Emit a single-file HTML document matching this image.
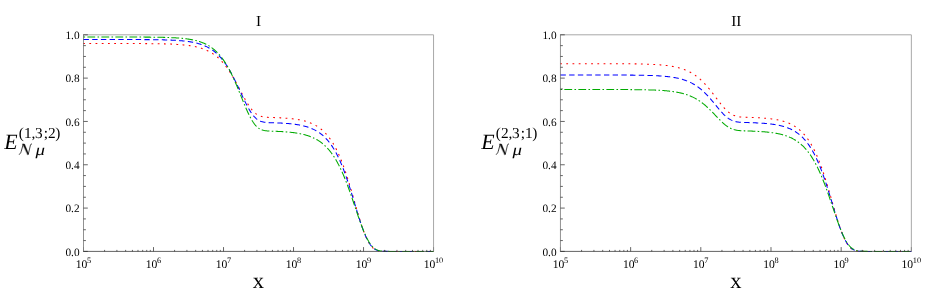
<!DOCTYPE html>
<html><head><meta charset="utf-8"><title>plot</title>
<style>html,body{margin:0;padding:0;background:#fff}svg{display:block}text{font-family:"Liberation Serif",serif;fill:#000;text-rendering:geometricPrecision}</style>
</head><body>
<svg width="926" height="303" viewBox="0 0 926 303">
<rect width="926" height="303" fill="#fff"/>
<defs><filter id="id" filterUnits="userSpaceOnUse" x="0" y="0" width="926" height="303"><feColorMatrix type="matrix" values="1 0 0 0 0 0 1 0 0 0 0 0 1 0 0 0 0 0 1 0"/></filter></defs>
<g filter="url(#id)" style="will-change:transform">
<path d="M83.5,34.80000000000001 H433.55 V251.4" fill="none" stroke="#a8a8a8" stroke-width="1.0"/>
<path d="M83.50,43.50 L84.00,43.50 L84.50,43.50 L85.00,43.50 L85.50,43.50 L86.00,43.50 L86.50,43.50 L87.00,43.50 L87.50,43.50 L88.00,43.50 L88.50,43.50 L89.00,43.50 L89.50,43.50 L90.00,43.50 L90.50,43.50 L91.00,43.50 L91.50,43.50 L92.00,43.50 L92.50,43.50 L93.00,43.50 L93.50,43.50 L94.00,43.50 L94.50,43.50 L95.00,43.50 L95.50,43.50 L96.00,43.50 L96.50,43.50 L97.00,43.50 L97.50,43.51 L98.00,43.51 L98.50,43.51 L99.00,43.51 L99.50,43.51 L100.00,43.51 L100.50,43.51 L101.00,43.51 L101.50,43.51 L102.00,43.51 L102.50,43.51 L103.00,43.51 L103.50,43.51 L104.00,43.51 L104.50,43.51 L105.00,43.51 L105.50,43.51 L106.00,43.51 L106.50,43.51 L107.00,43.51 L107.50,43.51 L108.00,43.51 L108.50,43.51 L109.00,43.51 L109.50,43.51 L110.00,43.51 L110.50,43.51 L111.00,43.51 L111.50,43.51 L112.00,43.51 L112.50,43.51 L113.00,43.51 L113.50,43.51 L114.00,43.51 L114.50,43.51 L115.00,43.51 L115.50,43.51 L116.00,43.51 L116.50,43.51 L117.00,43.52 L117.50,43.52 L118.00,43.52 L118.50,43.52 L119.01,43.52 L119.51,43.52 L120.01,43.52 L120.51,43.52 L121.01,43.52 L121.51,43.52 L122.01,43.52 L122.51,43.52 L123.01,43.52 L123.51,43.52 L124.01,43.52 L124.51,43.52 L125.01,43.53 L125.51,43.53 L126.01,43.53 L126.51,43.53 L127.01,43.53 L127.51,43.53 L128.01,43.53 L128.51,43.53 L129.01,43.53 L129.51,43.53 L130.01,43.54 L130.51,43.54 L131.01,43.54 L131.51,43.54 L132.01,43.54 L132.51,43.54 L133.01,43.54 L133.51,43.55 L134.01,43.55 L134.51,43.55 L135.01,43.55 L135.51,43.55 L136.01,43.55 L136.51,43.56 L137.01,43.56 L137.51,43.56 L138.01,43.56 L138.51,43.56 L139.01,43.57 L139.51,43.57 L140.01,43.57 L140.51,43.57 L141.01,43.58 L141.51,43.58 L142.01,43.58 L142.51,43.58 L143.01,43.59 L143.51,43.59 L144.01,43.59 L144.51,43.60 L145.01,43.60 L145.51,43.60 L146.01,43.61 L146.51,43.61 L147.01,43.61 L147.51,43.62 L148.01,43.62 L148.51,43.63 L149.01,43.63 L149.51,43.63 L150.01,43.64 L150.51,43.64 L151.01,43.65 L151.51,43.65 L152.01,43.66 L152.51,43.67 L153.01,43.67 L153.51,43.68 L154.01,43.68 L154.51,43.69 L155.01,43.70 L155.51,43.70 L156.01,43.71 L156.51,43.72 L157.01,43.73 L157.51,43.73 L158.01,43.74 L158.51,43.75 L159.01,43.76 L159.51,43.77 L160.01,43.78 L160.51,43.79 L161.01,43.80 L161.51,43.81 L162.01,43.82 L162.51,43.83 L163.01,43.84 L163.51,43.85 L164.01,43.87 L164.51,43.88 L165.01,43.89 L165.51,43.91 L166.01,43.92 L166.51,43.94 L167.01,43.95 L167.51,43.97 L168.01,43.98 L168.51,44.00 L169.01,44.02 L169.51,44.04 L170.01,44.06 L170.51,44.07 L171.01,44.09 L171.51,44.12 L172.01,44.14 L172.51,44.16 L173.01,44.18 L173.51,44.21 L174.01,44.23 L174.51,44.26 L175.01,44.28 L175.51,44.31 L176.01,44.34 L176.51,44.37 L177.01,44.40 L177.51,44.43 L178.01,44.47 L178.51,44.50 L179.01,44.53 L179.51,44.57 L180.01,44.61 L180.51,44.65 L181.01,44.69 L181.51,44.73 L182.01,44.77 L182.51,44.82 L183.01,44.86 L183.51,44.91 L184.01,44.96 L184.51,45.01 L185.01,45.07 L185.51,45.12 L186.01,45.18 L186.51,45.24 L187.01,45.30 L187.51,45.36 L188.01,45.42 L188.52,45.49 L189.02,45.56 L189.52,45.63 L190.02,45.71 L190.52,45.79 L191.02,45.87 L191.52,45.95 L192.02,46.03 L192.52,46.12 L193.02,46.21 L193.52,46.31 L194.02,46.40 L194.52,46.50 L195.02,46.61 L195.52,46.72 L196.02,46.83 L196.52,46.94 L197.02,47.06 L197.52,47.19 L198.02,47.31 L198.52,47.44 L199.02,47.58 L199.52,47.72 L200.02,47.87 L200.52,48.02 L201.02,48.17 L201.52,48.33 L202.02,48.50 L202.52,48.67 L203.02,48.84 L203.52,49.03 L204.02,49.21 L204.52,49.41 L205.02,49.61 L205.52,49.82 L206.02,50.03 L206.52,50.25 L207.02,50.48 L207.52,50.71 L208.02,50.96 L208.52,51.21 L209.02,51.46 L209.52,51.73 L210.02,52.00 L210.52,52.29 L211.02,52.58 L211.52,52.88 L212.02,53.19 L212.52,53.51 L213.02,53.84 L213.52,54.18 L214.02,54.52 L214.52,54.88 L215.02,55.25 L215.52,55.63 L216.02,56.03 L216.52,56.43 L217.02,56.84 L217.52,57.27 L218.02,57.71 L218.52,58.16 L219.02,58.62 L219.52,59.09 L220.02,59.58 L220.52,60.08 L221.02,60.60 L221.52,61.13 L222.02,61.67 L222.52,62.22 L223.02,62.79 L223.52,63.37 L224.02,63.97 L224.52,64.58 L225.02,65.21 L225.52,65.84 L226.02,66.50 L226.52,67.17 L227.02,67.85 L227.52,68.55 L228.02,69.26 L228.52,69.98 L229.02,70.72 L229.52,71.48 L230.02,72.25 L230.52,73.03 L231.02,73.82 L231.52,74.63 L232.02,75.45 L232.52,76.29 L233.02,77.13 L233.52,77.99 L234.02,78.86 L234.52,79.73 L235.02,80.62 L235.52,81.52 L236.02,82.43 L236.52,83.34 L237.02,84.27 L237.52,85.19 L238.02,86.13 L238.52,87.07 L239.02,88.01 L239.52,88.95 L240.02,89.90 L240.52,90.84 L241.02,91.79 L241.52,92.73 L242.02,93.67 L242.52,94.60 L243.02,95.53 L243.52,96.46 L244.02,97.37 L244.52,98.27 L245.02,99.17 L245.52,100.05 L246.02,100.91 L246.52,101.76 L247.02,102.60 L247.52,103.42 L248.02,104.22 L248.52,104.99 L249.02,105.75 L249.52,106.49 L250.02,107.20 L250.52,107.89 L251.02,108.55 L251.52,109.19 L252.02,109.80 L252.52,110.38 L253.02,110.94 L253.52,111.47 L254.02,111.97 L254.52,112.45 L255.02,112.90 L255.52,113.32 L256.02,113.71 L256.52,114.08 L257.02,114.42 L257.52,114.74 L258.02,115.03 L258.52,115.30 L259.03,115.55 L259.53,115.77 L260.03,115.97 L260.53,116.16 L261.03,116.32 L261.53,116.47 L262.03,116.61 L262.53,116.72 L263.03,116.83 L263.53,116.92 L264.03,117.00 L264.53,117.07 L265.03,117.14 L265.53,117.19 L266.03,117.24 L266.53,117.28 L267.03,117.32 L267.53,117.35 L268.03,117.38 L268.53,117.40 L269.03,117.43 L269.53,117.45 L270.03,117.47 L270.53,117.49 L271.03,117.50 L271.53,117.52 L272.03,117.53 L272.53,117.55 L273.03,117.57 L273.53,117.58 L274.03,117.60 L274.53,117.62 L275.03,117.63 L275.53,117.65 L276.03,117.67 L276.53,117.69 L277.03,117.71 L277.53,117.73 L278.03,117.75 L278.53,117.77 L279.03,117.79 L279.53,117.81 L280.03,117.84 L280.53,117.86 L281.03,117.89 L281.53,117.91 L282.03,117.94 L282.53,117.97 L283.03,118.00 L283.53,118.03 L284.03,118.06 L284.53,118.09 L285.03,118.13 L285.53,118.16 L286.03,118.20 L286.53,118.23 L287.03,118.27 L287.53,118.31 L288.03,118.36 L288.53,118.40 L289.03,118.44 L289.53,118.49 L290.03,118.54 L290.53,118.59 L291.03,118.64 L291.53,118.69 L292.03,118.75 L292.53,118.80 L293.03,118.86 L293.53,118.92 L294.03,118.99 L294.53,119.05 L295.03,119.12 L295.53,119.19 L296.03,119.26 L296.53,119.34 L297.03,119.42 L297.53,119.50 L298.03,119.58 L298.53,119.67 L299.03,119.76 L299.53,119.85 L300.03,119.95 L300.53,120.05 L301.03,120.15 L301.53,120.25 L302.03,120.37 L302.53,120.48 L303.03,120.60 L303.53,120.72 L304.03,120.85 L304.53,120.98 L305.03,121.11 L305.53,121.25 L306.03,121.40 L306.53,121.55 L307.03,121.70 L307.53,121.87 L308.03,122.03 L308.53,122.20 L309.03,122.38 L309.53,122.57 L310.03,122.76 L310.53,122.96 L311.03,123.16 L311.53,123.37 L312.03,123.59 L312.53,123.82 L313.03,124.05 L313.53,124.29 L314.03,124.54 L314.53,124.80 L315.03,125.07 L315.53,125.34 L316.03,125.63 L316.53,125.92 L317.03,126.23 L317.53,126.54 L318.03,126.87 L318.53,127.20 L319.03,127.55 L319.53,127.91 L320.03,128.28 L320.53,128.66 L321.03,129.06 L321.53,129.47 L322.03,129.89 L322.53,130.32 L323.03,130.77 L323.53,131.24 L324.03,131.72 L324.53,132.21 L325.03,132.72 L325.53,133.24 L326.03,133.79 L326.53,134.35 L327.03,134.92 L327.53,135.52 L328.03,136.13 L328.54,136.76 L329.04,137.41 L329.54,138.08 L330.04,138.77 L330.54,139.48 L331.04,140.21 L331.54,140.96 L332.04,141.73 L332.54,142.53 L333.04,143.35 L333.54,144.19 L334.04,145.05 L334.54,145.94 L335.04,146.85 L335.54,147.79 L336.04,148.75 L336.54,149.74 L337.04,150.75 L337.54,151.79 L338.04,152.85 L338.54,153.94 L339.04,155.06 L339.54,156.21 L340.04,157.38 L340.54,158.57 L341.04,159.80 L341.54,161.05 L342.04,162.33 L342.54,163.64 L343.04,164.97 L343.54,166.33 L344.04,167.72 L344.54,169.13 L345.04,170.57 L345.54,172.03 L346.04,173.52 L346.54,175.03 L347.04,176.56 L347.54,178.12 L348.04,179.70 L348.54,181.30 L349.04,182.92 L349.54,184.56 L350.04,186.22 L350.54,187.89 L351.04,189.58 L351.54,191.29 L352.04,193.00 L352.54,194.72 L353.04,196.46 L353.54,198.20 L354.04,199.94 L354.54,201.69 L355.04,203.43 L355.54,205.18 L356.04,206.92 L356.54,208.65 L357.04,210.38 L357.54,212.09 L358.04,213.79 L358.54,215.48 L359.04,217.14 L359.54,218.79 L360.04,220.41 L360.54,222.00 L361.04,223.56 L361.54,225.10 L362.04,226.60 L362.54,228.06 L363.04,229.48 L363.54,230.87 L364.04,232.21 L364.54,233.51 L365.04,234.76 L365.54,235.97 L366.04,237.12 L366.54,238.23 L367.04,239.29 L367.54,240.29 L368.04,241.24 L368.54,242.15 L369.04,243.00 L369.54,243.79 L370.04,244.54 L370.54,245.24 L371.04,245.88 L371.54,246.48 L372.04,247.04 L372.54,247.54 L373.04,248.00 L373.54,248.43 L374.04,248.81 L374.54,249.15 L375.04,249.46 L375.54,249.73 L376.04,249.98 L376.54,250.19 L377.04,250.38 L377.54,250.54 L378.04,250.69 L378.54,250.81 L379.04,250.91 L379.54,251.00 L380.04,251.08 L380.54,251.14 L381.04,251.19 L381.54,251.24 L382.04,251.27 L382.54,251.30 L383.04,251.32 L383.54,251.34 L384.04,251.36 L384.54,251.37 L385.04,251.38 L385.54,251.38 L386.04,251.39 L386.54,251.39 L387.04,251.39 L387.54,251.40 L388.04,251.40 L388.54,251.40 L389.04,251.40 L389.54,251.40 L390.04,251.40 L390.54,251.40 L391.04,251.40 L391.54,251.40 L392.04,251.40 L392.54,251.40 L393.04,251.40 L393.54,251.40 L394.04,251.40 L394.54,251.40 L395.04,251.40 L395.54,251.40 L396.04,251.40 L396.54,251.40 L397.04,251.40 L397.54,251.40 L398.04,251.40 L398.55,251.40 L399.05,251.40 L399.55,251.40 L400.05,251.40 L400.55,251.40 L401.05,251.40 L401.55,251.40 L402.05,251.40 L402.55,251.40 L403.05,251.40 L403.55,251.40 L404.05,251.40 L404.55,251.40 L405.05,251.40 L405.55,251.40 L406.05,251.40 L406.55,251.40 L407.05,251.40 L407.55,251.40 L408.05,251.40 L408.55,251.40 L409.05,251.40 L409.55,251.40 L410.05,251.40 L410.55,251.40 L411.05,251.40 L411.55,251.40 L412.05,251.40 L412.55,251.40 L413.05,251.40 L413.55,251.40 L414.05,251.40 L414.55,251.40 L415.05,251.40 L415.55,251.40 L416.05,251.40 L416.55,251.40 L417.05,251.40 L417.55,251.40 L418.05,251.40 L418.55,251.40 L419.05,251.40 L419.55,251.40 L420.05,251.40 L420.55,251.40 L421.05,251.40 L421.55,251.40 L422.05,251.40 L422.55,251.40 L423.05,251.40 L423.55,251.40 L424.05,251.40 L424.55,251.40 L425.05,251.40 L425.55,251.40 L426.05,251.40 L426.55,251.40 L427.05,251.40 L427.55,251.40 L428.05,251.40 L428.55,251.40 L429.05,251.40 L429.55,251.40 L430.05,251.40 L430.55,251.40 L431.05,251.40 L431.55,251.40 L432.05,251.40 L432.55,251.40 L433.05,251.40 L433.55,251.40" fill="none" stroke="#ff0000" stroke-width="1.05" stroke-dasharray="1.8 4.42" stroke-dashoffset="0.4"/>
<path d="M83.50,39.52 L84.00,39.52 L84.50,39.52 L85.00,39.52 L85.50,39.52 L86.00,39.52 L86.50,39.52 L87.00,39.52 L87.50,39.52 L88.00,39.52 L88.50,39.52 L89.00,39.52 L89.50,39.52 L90.00,39.52 L90.50,39.52 L91.00,39.52 L91.50,39.52 L92.00,39.52 L92.50,39.52 L93.00,39.52 L93.50,39.52 L94.00,39.52 L94.50,39.52 L95.00,39.52 L95.50,39.52 L96.00,39.52 L96.50,39.52 L97.00,39.52 L97.50,39.52 L98.00,39.52 L98.50,39.52 L99.00,39.52 L99.50,39.52 L100.00,39.52 L100.50,39.52 L101.00,39.52 L101.50,39.52 L102.00,39.52 L102.50,39.52 L103.00,39.52 L103.50,39.52 L104.00,39.52 L104.50,39.52 L105.00,39.52 L105.50,39.52 L106.00,39.52 L106.50,39.52 L107.00,39.52 L107.50,39.52 L108.00,39.52 L108.50,39.52 L109.00,39.52 L109.50,39.52 L110.00,39.52 L110.50,39.52 L111.00,39.52 L111.50,39.52 L112.00,39.52 L112.50,39.52 L113.00,39.52 L113.50,39.52 L114.00,39.52 L114.50,39.53 L115.00,39.53 L115.50,39.53 L116.00,39.53 L116.50,39.53 L117.00,39.53 L117.50,39.53 L118.00,39.53 L118.50,39.53 L119.01,39.53 L119.51,39.53 L120.01,39.53 L120.51,39.53 L121.01,39.53 L121.51,39.53 L122.01,39.53 L122.51,39.53 L123.01,39.53 L123.51,39.54 L124.01,39.54 L124.51,39.54 L125.01,39.54 L125.51,39.54 L126.01,39.54 L126.51,39.54 L127.01,39.54 L127.51,39.54 L128.01,39.54 L128.51,39.54 L129.01,39.54 L129.51,39.55 L130.01,39.55 L130.51,39.55 L131.01,39.55 L131.51,39.55 L132.01,39.55 L132.51,39.55 L133.01,39.55 L133.51,39.56 L134.01,39.56 L134.51,39.56 L135.01,39.56 L135.51,39.56 L136.01,39.56 L136.51,39.57 L137.01,39.57 L137.51,39.57 L138.01,39.57 L138.51,39.57 L139.01,39.58 L139.51,39.58 L140.01,39.58 L140.51,39.58 L141.01,39.59 L141.51,39.59 L142.01,39.59 L142.51,39.59 L143.01,39.60 L143.51,39.60 L144.01,39.60 L144.51,39.61 L145.01,39.61 L145.51,39.61 L146.01,39.62 L146.51,39.62 L147.01,39.62 L147.51,39.63 L148.01,39.63 L148.51,39.64 L149.01,39.64 L149.51,39.65 L150.01,39.65 L150.51,39.65 L151.01,39.66 L151.51,39.66 L152.01,39.67 L152.51,39.68 L153.01,39.68 L153.51,39.69 L154.01,39.69 L154.51,39.70 L155.01,39.71 L155.51,39.71 L156.01,39.72 L156.51,39.73 L157.01,39.74 L157.51,39.74 L158.01,39.75 L158.51,39.76 L159.01,39.77 L159.51,39.78 L160.01,39.79 L160.51,39.80 L161.01,39.81 L161.51,39.82 L162.01,39.83 L162.51,39.84 L163.01,39.85 L163.51,39.87 L164.01,39.88 L164.51,39.89 L165.01,39.91 L165.51,39.92 L166.01,39.93 L166.51,39.95 L167.01,39.97 L167.51,39.98 L168.01,40.00 L168.51,40.02 L169.01,40.03 L169.51,40.05 L170.01,40.07 L170.51,40.09 L171.01,40.11 L171.51,40.13 L172.01,40.16 L172.51,40.18 L173.01,40.20 L173.51,40.23 L174.01,40.25 L174.51,40.28 L175.01,40.31 L175.51,40.34 L176.01,40.37 L176.51,40.40 L177.01,40.43 L177.51,40.46 L178.01,40.50 L178.51,40.53 L179.01,40.57 L179.51,40.61 L180.01,40.65 L180.51,40.69 L181.01,40.73 L181.51,40.77 L182.01,40.82 L182.51,40.86 L183.01,40.91 L183.51,40.96 L184.01,41.01 L184.51,41.07 L185.01,41.12 L185.51,41.18 L186.01,41.24 L186.51,41.30 L187.01,41.36 L187.51,41.43 L188.01,41.50 L188.52,41.57 L189.02,41.64 L189.52,41.72 L190.02,41.80 L190.52,41.88 L191.02,41.96 L191.52,42.05 L192.02,42.14 L192.52,42.23 L193.02,42.33 L193.52,42.43 L194.02,42.53 L194.52,42.64 L195.02,42.75 L195.52,42.86 L196.02,42.98 L196.52,43.10 L197.02,43.23 L197.52,43.36 L198.02,43.50 L198.52,43.64 L199.02,43.78 L199.52,43.93 L200.02,44.09 L200.52,44.25 L201.02,44.41 L201.52,44.59 L202.02,44.76 L202.52,44.95 L203.02,45.14 L203.52,45.33 L204.02,45.53 L204.52,45.74 L205.02,45.96 L205.52,46.18 L206.02,46.41 L206.52,46.65 L207.02,46.90 L207.52,47.15 L208.02,47.41 L208.52,47.68 L209.02,47.96 L209.52,48.25 L210.02,48.55 L210.52,48.85 L211.02,49.17 L211.52,49.50 L212.02,49.84 L212.52,50.18 L213.02,50.54 L213.52,50.91 L214.02,51.29 L214.52,51.68 L215.02,52.09 L215.52,52.50 L216.02,52.93 L216.52,53.37 L217.02,53.83 L217.52,54.30 L218.02,54.78 L218.52,55.27 L219.02,55.78 L219.52,56.31 L220.02,56.84 L220.52,57.40 L221.02,57.97 L221.52,58.55 L222.02,59.15 L222.52,59.76 L223.02,60.39 L223.52,61.04 L224.02,61.70 L224.52,62.38 L225.02,63.08 L225.52,63.79 L226.02,64.52 L226.52,65.26 L227.02,66.03 L227.52,66.80 L228.02,67.60 L228.52,68.41 L229.02,69.24 L229.52,70.09 L230.02,70.95 L230.52,71.83 L231.02,72.72 L231.52,73.63 L232.02,74.56 L232.52,75.50 L233.02,76.45 L233.52,77.42 L234.02,78.41 L234.52,79.40 L235.02,80.41 L235.52,81.43 L236.02,82.46 L236.52,83.50 L237.02,84.54 L237.52,85.60 L238.02,86.66 L238.52,87.73 L239.02,88.81 L239.52,89.89 L240.02,90.97 L240.52,92.05 L241.02,93.13 L241.52,94.21 L242.02,95.29 L242.52,96.36 L243.02,97.43 L243.52,98.49 L244.02,99.54 L244.52,100.58 L245.02,101.61 L245.52,102.63 L246.02,103.63 L246.52,104.61 L247.02,105.57 L247.52,106.52 L248.02,107.44 L248.52,108.34 L249.02,109.21 L249.52,110.06 L250.02,110.89 L250.52,111.68 L251.02,112.45 L251.52,113.19 L252.02,113.90 L252.52,114.57 L253.02,115.22 L253.52,115.83 L254.02,116.41 L254.52,116.96 L255.02,117.48 L255.52,117.96 L256.02,118.42 L256.52,118.84 L257.02,119.24 L257.52,119.60 L258.02,119.93 L258.52,120.24 L259.03,120.52 L259.53,120.78 L260.03,121.01 L260.53,121.22 L261.03,121.41 L261.53,121.58 L262.03,121.73 L262.53,121.86 L263.03,121.98 L263.53,122.08 L264.03,122.17 L264.53,122.25 L265.03,122.32 L265.53,122.38 L266.03,122.43 L266.53,122.47 L267.03,122.51 L267.53,122.55 L268.03,122.58 L268.53,122.60 L269.03,122.63 L269.53,122.65 L270.03,122.67 L270.53,122.69 L271.03,122.70 L271.53,122.72 L272.03,122.74 L272.53,122.75 L273.03,122.77 L273.53,122.79 L274.03,122.80 L274.53,122.82 L275.03,122.84 L275.53,122.85 L276.03,122.87 L276.53,122.89 L277.03,122.91 L277.53,122.93 L278.03,122.95 L278.53,122.97 L279.03,122.99 L279.53,123.02 L280.03,123.04 L280.53,123.07 L281.03,123.09 L281.53,123.12 L282.03,123.14 L282.53,123.17 L283.03,123.20 L283.53,123.23 L284.03,123.26 L284.53,123.30 L285.03,123.33 L285.53,123.36 L286.03,123.40 L286.53,123.44 L287.03,123.48 L287.53,123.52 L288.03,123.56 L288.53,123.60 L289.03,123.64 L289.53,123.69 L290.03,123.74 L290.53,123.79 L291.03,123.84 L291.53,123.89 L292.03,123.94 L292.53,124.00 L293.03,124.06 L293.53,124.12 L294.03,124.18 L294.53,124.25 L295.03,124.31 L295.53,124.38 L296.03,124.46 L296.53,124.53 L297.03,124.61 L297.53,124.69 L298.03,124.77 L298.53,124.85 L299.03,124.94 L299.53,125.03 L300.03,125.13 L300.53,125.23 L301.03,125.33 L301.53,125.43 L302.03,125.54 L302.53,125.65 L303.03,125.77 L303.53,125.89 L304.03,126.01 L304.53,126.14 L305.03,126.27 L305.53,126.41 L306.03,126.55 L306.53,126.70 L307.03,126.85 L307.53,127.01 L308.03,127.17 L308.53,127.34 L309.03,127.51 L309.53,127.69 L310.03,127.88 L310.53,128.07 L311.03,128.27 L311.53,128.48 L312.03,128.69 L312.53,128.91 L313.03,129.13 L313.53,129.37 L314.03,129.61 L314.53,129.86 L315.03,130.12 L315.53,130.39 L316.03,130.67 L316.53,130.95 L317.03,131.25 L317.53,131.55 L318.03,131.87 L318.53,132.19 L319.03,132.53 L319.53,132.87 L320.03,133.23 L320.53,133.60 L321.03,133.98 L321.53,134.38 L322.03,134.78 L322.53,135.20 L323.03,135.64 L323.53,136.08 L324.03,136.54 L324.53,137.02 L325.03,137.51 L325.53,138.01 L326.03,138.53 L326.53,139.07 L327.03,139.62 L327.53,140.19 L328.03,140.78 L328.54,141.38 L329.04,142.01 L329.54,142.65 L330.04,143.31 L330.54,143.99 L331.04,144.69 L331.54,145.41 L332.04,146.14 L332.54,146.90 L333.04,147.69 L333.54,148.49 L334.04,149.31 L334.54,150.16 L335.04,151.03 L335.54,151.93 L336.04,152.84 L336.54,153.78 L337.04,154.75 L337.54,155.74 L338.04,156.75 L338.54,157.79 L339.04,158.85 L339.54,159.94 L340.04,161.05 L340.54,162.19 L341.04,163.35 L341.54,164.54 L342.04,165.76 L342.54,166.99 L343.04,168.26 L343.54,169.55 L344.04,170.86 L344.54,172.20 L345.04,173.57 L345.54,174.95 L346.04,176.36 L346.54,177.80 L347.04,179.25 L347.54,180.73 L348.04,182.23 L348.54,183.74 L349.04,185.28 L349.54,186.83 L350.04,188.41 L350.54,189.99 L351.04,191.59 L351.54,193.21 L352.04,194.83 L352.54,196.47 L353.04,198.11 L353.54,199.76 L354.04,201.41 L354.54,203.07 L355.04,204.73 L355.54,206.39 L356.04,208.04 L356.54,209.69 L357.04,211.34 L357.54,212.97 L358.04,214.59 L358.54,216.19 L359.04,217.78 L359.54,219.35 L360.04,220.90 L360.54,222.43 L361.04,223.93 L361.54,225.40 L362.04,226.84 L362.54,228.25 L363.04,229.62 L363.54,230.95 L364.04,232.25 L364.54,233.51 L365.04,234.72 L365.54,235.89 L366.04,237.02 L366.54,238.10 L367.04,239.13 L367.54,240.11 L368.04,241.05 L368.54,241.94 L369.04,242.78 L369.54,243.57 L370.04,244.31 L370.54,245.01 L371.04,245.66 L371.54,246.26 L372.04,246.81 L372.54,247.33 L373.04,247.80 L373.54,248.23 L374.04,248.62 L374.54,248.97 L375.04,249.29 L375.54,249.58 L376.04,249.84 L376.54,250.06 L377.04,250.26 L377.54,250.44 L378.04,250.59 L378.54,250.73 L379.04,250.84 L379.54,250.94 L380.04,251.02 L380.54,251.09 L381.04,251.15 L381.54,251.20 L382.04,251.24 L382.54,251.28 L383.04,251.30 L383.54,251.33 L384.04,251.34 L384.54,251.36 L385.04,251.37 L385.54,251.38 L386.04,251.38 L386.54,251.39 L387.04,251.39 L387.54,251.39 L388.04,251.40 L388.54,251.40 L389.04,251.40 L389.54,251.40 L390.04,251.40 L390.54,251.40 L391.04,251.40 L391.54,251.40 L392.04,251.40 L392.54,251.40 L393.04,251.40 L393.54,251.40 L394.04,251.40 L394.54,251.40 L395.04,251.40 L395.54,251.40 L396.04,251.40 L396.54,251.40 L397.04,251.40 L397.54,251.40 L398.04,251.40 L398.55,251.40 L399.05,251.40 L399.55,251.40 L400.05,251.40 L400.55,251.40 L401.05,251.40 L401.55,251.40 L402.05,251.40 L402.55,251.40 L403.05,251.40 L403.55,251.40 L404.05,251.40 L404.55,251.40 L405.05,251.40 L405.55,251.40 L406.05,251.40 L406.55,251.40 L407.05,251.40 L407.55,251.40 L408.05,251.40 L408.55,251.40 L409.05,251.40 L409.55,251.40 L410.05,251.40 L410.55,251.40 L411.05,251.40 L411.55,251.40 L412.05,251.40 L412.55,251.40 L413.05,251.40 L413.55,251.40 L414.05,251.40 L414.55,251.40 L415.05,251.40 L415.55,251.40 L416.05,251.40 L416.55,251.40 L417.05,251.40 L417.55,251.40 L418.05,251.40 L418.55,251.40 L419.05,251.40 L419.55,251.40 L420.05,251.40 L420.55,251.40 L421.05,251.40 L421.55,251.40 L422.05,251.40 L422.55,251.40 L423.05,251.40 L423.55,251.40 L424.05,251.40 L424.55,251.40 L425.05,251.40 L425.55,251.40 L426.05,251.40 L426.55,251.40 L427.05,251.40 L427.55,251.40 L428.05,251.40 L428.55,251.40 L429.05,251.40 L429.55,251.40 L430.05,251.40 L430.55,251.40 L431.05,251.40 L431.55,251.40 L432.05,251.40 L432.55,251.40 L433.05,251.40 L433.55,251.40" fill="none" stroke="#0000ff" stroke-width="1.05" stroke-dasharray="5.4 3.3"/>
<path d="M83.50,37.01 L84.00,37.01 L84.50,37.01 L85.00,37.01 L85.50,37.01 L86.00,37.01 L86.50,37.01 L87.00,37.01 L87.50,37.01 L88.00,37.01 L88.50,37.01 L89.00,37.01 L89.50,37.01 L90.00,37.01 L90.50,37.01 L91.00,37.01 L91.50,37.01 L92.00,37.01 L92.50,37.01 L93.00,37.01 L93.50,37.01 L94.00,37.01 L94.50,37.01 L95.00,37.01 L95.50,37.01 L96.00,37.01 L96.50,37.01 L97.00,37.01 L97.50,37.01 L98.00,37.01 L98.50,37.01 L99.00,37.01 L99.50,37.01 L100.00,37.01 L100.50,37.01 L101.00,37.01 L101.50,37.01 L102.00,37.01 L102.50,37.01 L103.00,37.01 L103.50,37.01 L104.00,37.01 L104.50,37.01 L105.00,37.01 L105.50,37.01 L106.00,37.01 L106.50,37.01 L107.00,37.01 L107.50,37.01 L108.00,37.01 L108.50,37.01 L109.00,37.01 L109.50,37.01 L110.00,37.01 L110.50,37.01 L111.00,37.01 L111.50,37.01 L112.00,37.01 L112.50,37.02 L113.00,37.02 L113.50,37.02 L114.00,37.02 L114.50,37.02 L115.00,37.02 L115.50,37.02 L116.00,37.02 L116.50,37.02 L117.00,37.02 L117.50,37.02 L118.00,37.02 L118.50,37.02 L119.01,37.02 L119.51,37.02 L120.01,37.02 L120.51,37.02 L121.01,37.02 L121.51,37.02 L122.01,37.02 L122.51,37.02 L123.01,37.03 L123.51,37.03 L124.01,37.03 L124.51,37.03 L125.01,37.03 L125.51,37.03 L126.01,37.03 L126.51,37.03 L127.01,37.03 L127.51,37.03 L128.01,37.03 L128.51,37.03 L129.01,37.04 L129.51,37.04 L130.01,37.04 L130.51,37.04 L131.01,37.04 L131.51,37.04 L132.01,37.04 L132.51,37.04 L133.01,37.05 L133.51,37.05 L134.01,37.05 L134.51,37.05 L135.01,37.05 L135.51,37.05 L136.01,37.06 L136.51,37.06 L137.01,37.06 L137.51,37.06 L138.01,37.06 L138.51,37.06 L139.01,37.07 L139.51,37.07 L140.01,37.07 L140.51,37.07 L141.01,37.08 L141.51,37.08 L142.01,37.08 L142.51,37.08 L143.01,37.09 L143.51,37.09 L144.01,37.09 L144.51,37.10 L145.01,37.10 L145.51,37.10 L146.01,37.11 L146.51,37.11 L147.01,37.11 L147.51,37.12 L148.01,37.12 L148.51,37.13 L149.01,37.13 L149.51,37.14 L150.01,37.14 L150.51,37.15 L151.01,37.15 L151.51,37.16 L152.01,37.16 L152.51,37.17 L153.01,37.17 L153.51,37.18 L154.01,37.19 L154.51,37.19 L155.01,37.20 L155.51,37.21 L156.01,37.21 L156.51,37.22 L157.01,37.23 L157.51,37.24 L158.01,37.25 L158.51,37.25 L159.01,37.26 L159.51,37.27 L160.01,37.28 L160.51,37.29 L161.01,37.30 L161.51,37.31 L162.01,37.32 L162.51,37.34 L163.01,37.35 L163.51,37.36 L164.01,37.37 L164.51,37.39 L165.01,37.40 L165.51,37.42 L166.01,37.43 L166.51,37.45 L167.01,37.46 L167.51,37.48 L168.01,37.50 L168.51,37.51 L169.01,37.53 L169.51,37.55 L170.01,37.57 L170.51,37.59 L171.01,37.61 L171.51,37.64 L172.01,37.66 L172.51,37.68 L173.01,37.71 L173.51,37.73 L174.01,37.76 L174.51,37.79 L175.01,37.81 L175.51,37.84 L176.01,37.87 L176.51,37.91 L177.01,37.94 L177.51,37.97 L178.01,38.01 L178.51,38.04 L179.01,38.08 L179.51,38.12 L180.01,38.16 L180.51,38.20 L181.01,38.25 L181.51,38.29 L182.01,38.34 L182.51,38.39 L183.01,38.44 L183.51,38.49 L184.01,38.54 L184.51,38.60 L185.01,38.66 L185.51,38.72 L186.01,38.78 L186.51,38.84 L187.01,38.91 L187.51,38.98 L188.01,39.05 L188.52,39.13 L189.02,39.20 L189.52,39.28 L190.02,39.36 L190.52,39.45 L191.02,39.54 L191.52,39.63 L192.02,39.72 L192.52,39.82 L193.02,39.92 L193.52,40.03 L194.02,40.14 L194.52,40.25 L195.02,40.36 L195.52,40.49 L196.02,40.61 L196.52,40.74 L197.02,40.87 L197.52,41.01 L198.02,41.15 L198.52,41.30 L199.02,41.46 L199.52,41.62 L200.02,41.78 L200.52,41.95 L201.02,42.13 L201.52,42.31 L202.02,42.50 L202.52,42.69 L203.02,42.89 L203.52,43.10 L204.02,43.32 L204.52,43.54 L205.02,43.77 L205.52,44.01 L206.02,44.25 L206.52,44.51 L207.02,44.77 L207.52,45.04 L208.02,45.32 L208.52,45.61 L209.02,45.91 L209.52,46.22 L210.02,46.54 L210.52,46.87 L211.02,47.21 L211.52,47.56 L212.02,47.93 L212.52,48.30 L213.02,48.69 L213.52,49.09 L214.02,49.50 L214.52,49.92 L215.02,50.36 L215.52,50.81 L216.02,51.27 L216.52,51.75 L217.02,52.25 L217.52,52.75 L218.02,53.28 L218.52,53.82 L219.02,54.37 L219.52,54.94 L220.02,55.53 L220.52,56.13 L221.02,56.75 L221.52,57.39 L222.02,58.05 L222.52,58.72 L223.02,59.41 L223.52,60.12 L224.02,60.85 L224.52,61.60 L225.02,62.36 L225.52,63.15 L226.02,63.95 L226.52,64.77 L227.02,65.62 L227.52,66.48 L228.02,67.36 L228.52,68.26 L229.02,69.18 L229.52,70.12 L230.02,71.08 L230.52,72.06 L231.02,73.06 L231.52,74.08 L232.02,75.11 L232.52,76.16 L233.02,77.23 L233.52,78.32 L234.02,79.42 L234.52,80.54 L235.02,81.68 L235.52,82.83 L236.02,83.99 L236.52,85.17 L237.02,86.36 L237.52,87.56 L238.02,88.76 L238.52,89.98 L239.02,91.21 L239.52,92.44 L240.02,93.67 L240.52,94.91 L241.02,96.15 L241.52,97.39 L242.02,98.63 L242.52,99.87 L243.02,101.10 L243.52,102.33 L244.02,103.54 L244.52,104.75 L245.02,105.94 L245.52,107.13 L246.02,108.29 L246.52,109.44 L247.02,110.57 L247.52,111.67 L248.02,112.76 L248.52,113.82 L249.02,114.85 L249.52,115.85 L250.02,116.83 L250.52,117.77 L251.02,118.69 L251.52,119.56 L252.02,120.41 L252.52,121.22 L253.02,121.99 L253.52,122.73 L254.02,123.43 L254.52,124.09 L255.02,124.72 L255.52,125.30 L256.02,125.86 L256.52,126.37 L257.02,126.85 L257.52,127.30 L258.02,127.71 L258.52,128.08 L259.03,128.43 L259.53,128.74 L260.03,129.03 L260.53,129.29 L261.03,129.52 L261.53,129.73 L262.03,129.92 L262.53,130.08 L263.03,130.23 L263.53,130.36 L264.03,130.47 L264.53,130.57 L265.03,130.65 L265.53,130.73 L266.03,130.79 L266.53,130.85 L267.03,130.90 L267.53,130.94 L268.03,130.98 L268.53,131.01 L269.03,131.04 L269.53,131.06 L270.03,131.09 L270.53,131.11 L271.03,131.13 L271.53,131.15 L272.03,131.17 L272.53,131.18 L273.03,131.20 L273.53,131.22 L274.03,131.24 L274.53,131.26 L275.03,131.28 L275.53,131.29 L276.03,131.31 L276.53,131.34 L277.03,131.36 L277.53,131.38 L278.03,131.40 L278.53,131.42 L279.03,131.45 L279.53,131.47 L280.03,131.50 L280.53,131.53 L281.03,131.55 L281.53,131.58 L282.03,131.61 L282.53,131.64 L283.03,131.67 L283.53,131.70 L284.03,131.74 L284.53,131.77 L285.03,131.81 L285.53,131.85 L286.03,131.88 L286.53,131.92 L287.03,131.96 L287.53,132.01 L288.03,132.05 L288.53,132.10 L289.03,132.14 L289.53,132.19 L290.03,132.24 L290.53,132.29 L291.03,132.35 L291.53,132.40 L292.03,132.46 L292.53,132.52 L293.03,132.58 L293.53,132.64 L294.03,132.71 L294.53,132.77 L295.03,132.84 L295.53,132.92 L296.03,132.99 L296.53,133.07 L297.03,133.15 L297.53,133.23 L298.03,133.31 L298.53,133.40 L299.03,133.49 L299.53,133.59 L300.03,133.68 L300.53,133.78 L301.03,133.89 L301.53,133.99 L302.03,134.10 L302.53,134.22 L303.03,134.33 L303.53,134.45 L304.03,134.58 L304.53,134.71 L305.03,134.84 L305.53,134.98 L306.03,135.13 L306.53,135.27 L307.03,135.43 L307.53,135.58 L308.03,135.75 L308.53,135.91 L309.03,136.09 L309.53,136.27 L310.03,136.45 L310.53,136.64 L311.03,136.84 L311.53,137.04 L312.03,137.25 L312.53,137.47 L313.03,137.69 L313.53,137.92 L314.03,138.16 L314.53,138.41 L315.03,138.66 L315.53,138.92 L316.03,139.19 L316.53,139.47 L317.03,139.76 L317.53,140.06 L318.03,140.36 L318.53,140.68 L319.03,141.00 L319.53,141.34 L320.03,141.68 L320.53,142.04 L321.03,142.41 L321.53,142.78 L322.03,143.17 L322.53,143.58 L323.03,143.99 L323.53,144.42 L324.03,144.86 L324.53,145.31 L325.03,145.77 L325.53,146.25 L326.03,146.75 L326.53,147.25 L327.03,147.78 L327.53,148.31 L328.03,148.87 L328.54,149.44 L329.04,150.02 L329.54,150.62 L330.04,151.24 L330.54,151.88 L331.04,152.53 L331.54,153.20 L332.04,153.89 L332.54,154.60 L333.04,155.32 L333.54,156.07 L334.04,156.83 L334.54,157.62 L335.04,158.42 L335.54,159.24 L336.04,160.09 L336.54,160.95 L337.04,161.84 L337.54,162.75 L338.04,163.68 L338.54,164.63 L339.04,165.60 L339.54,166.59 L340.04,167.61 L340.54,168.64 L341.04,169.70 L341.54,170.78 L342.04,171.89 L342.54,173.01 L343.04,174.16 L343.54,175.33 L344.04,176.52 L344.54,177.73 L345.04,178.96 L345.54,180.21 L346.04,181.48 L346.54,182.77 L347.04,184.08 L347.54,185.41 L348.04,186.75 L348.54,188.12 L349.04,189.50 L349.54,190.89 L350.04,192.30 L350.54,193.73 L351.04,195.16 L351.54,196.61 L352.04,198.07 L352.54,199.53 L353.04,201.01 L353.54,202.49 L354.04,203.97 L354.54,205.46 L355.04,206.95 L355.54,208.44 L356.04,209.93 L356.54,211.41 L357.04,212.89 L357.54,214.37 L358.04,215.83 L358.54,217.28 L359.04,218.72 L359.54,220.15 L360.04,221.56 L360.54,222.95 L361.04,224.32 L361.54,225.67 L362.04,226.99 L362.54,228.28 L363.04,229.55 L363.54,230.79 L364.04,232.00 L364.54,233.17 L365.04,234.31 L365.54,235.41 L366.04,236.48 L366.54,237.51 L367.04,238.50 L367.54,239.44 L368.04,240.35 L368.54,241.22 L369.04,242.04 L369.54,242.82 L370.04,243.56 L370.54,244.26 L371.04,244.92 L371.54,245.54 L372.04,246.11 L372.54,246.65 L373.04,247.14 L373.54,247.60 L374.04,248.03 L374.54,248.41 L375.04,248.77 L375.54,249.09 L376.04,249.38 L376.54,249.65 L377.04,249.88 L377.54,250.09 L378.04,250.28 L378.54,250.44 L379.04,250.59 L379.54,250.72 L380.04,250.83 L380.54,250.92 L381.04,251.01 L381.54,251.08 L382.04,251.13 L382.54,251.18 L383.04,251.23 L383.54,251.26 L384.04,251.29 L384.54,251.31 L385.04,251.33 L385.54,251.35 L386.04,251.36 L386.54,251.37 L387.04,251.38 L387.54,251.38 L388.04,251.39 L388.54,251.39 L389.04,251.39 L389.54,251.40 L390.04,251.40 L390.54,251.40 L391.04,251.40 L391.54,251.40 L392.04,251.40 L392.54,251.40 L393.04,251.40 L393.54,251.40 L394.04,251.40 L394.54,251.40 L395.04,251.40 L395.54,251.40 L396.04,251.40 L396.54,251.40 L397.04,251.40 L397.54,251.40 L398.04,251.40 L398.55,251.40 L399.05,251.40 L399.55,251.40 L400.05,251.40 L400.55,251.40 L401.05,251.40 L401.55,251.40 L402.05,251.40 L402.55,251.40 L403.05,251.40 L403.55,251.40 L404.05,251.40 L404.55,251.40 L405.05,251.40 L405.55,251.40 L406.05,251.40 L406.55,251.40 L407.05,251.40 L407.55,251.40 L408.05,251.40 L408.55,251.40 L409.05,251.40 L409.55,251.40 L410.05,251.40 L410.55,251.40 L411.05,251.40 L411.55,251.40 L412.05,251.40 L412.55,251.40 L413.05,251.40 L413.55,251.40 L414.05,251.40 L414.55,251.40 L415.05,251.40 L415.55,251.40 L416.05,251.40 L416.55,251.40 L417.05,251.40 L417.55,251.40 L418.05,251.40 L418.55,251.40 L419.05,251.40 L419.55,251.40 L420.05,251.40 L420.55,251.40 L421.05,251.40 L421.55,251.40 L422.05,251.40 L422.55,251.40 L423.05,251.40 L423.55,251.40 L424.05,251.40 L424.55,251.40 L425.05,251.40 L425.55,251.40 L426.05,251.40 L426.55,251.40 L427.05,251.40 L427.55,251.40 L428.05,251.40 L428.55,251.40 L429.05,251.40 L429.55,251.40 L430.05,251.40 L430.55,251.40 L431.05,251.40 L431.55,251.40 L432.05,251.40 L432.55,251.40 L433.05,251.40 L433.55,251.40" fill="none" stroke="#00aa00" stroke-width="1.05" stroke-dasharray="1.6 2.3 7.8 2.3"/>
<path d="M83.5,34.40000000000001 V251.85" fill="none" stroke="#3a3a3a" stroke-width="0.56"/>
<path d="M83.1,251.4 H433.55" fill="none" stroke="#3a3a3a" stroke-width="0.8"/>
<path d="M83.5,251.40 h4.3 M83.5,240.57 h2.4 M83.5,229.74 h2.4 M83.5,218.91 h2.4 M83.5,208.08 h4.3 M83.5,197.25 h2.4 M83.5,186.42 h2.4 M83.5,175.59 h2.4 M83.5,164.76 h4.3 M83.5,153.93 h2.4 M83.5,143.10 h2.4 M83.5,132.27 h2.4 M83.5,121.44 h4.3 M83.5,110.61 h2.4 M83.5,99.78 h2.4 M83.5,88.95 h2.4 M83.5,78.12 h4.3 M83.5,67.29 h2.4 M83.5,56.46 h2.4 M83.5,45.63 h2.4 M83.5,34.80 h4.3" fill="none" stroke="#2a2a2a" stroke-width="0.72"/>
<path d="M83.50,251.4 v-4.3" fill="none" stroke="#777" stroke-width="0.72"/>
<path d="M433.55,251.4 v-4.3" fill="none" stroke="#777" stroke-width="0.72"/>
<path d="M104.58,251.4 v-1.5 M116.90,251.4 v-1.5 M125.65,251.4 v-1.5 M132.43,251.4 v-1.5 M137.98,251.4 v-1.5 M142.67,251.4 v-1.5 M146.73,251.4 v-1.5 M150.31,251.4 v-1.5 M153.51,251.4 v-4.3 M174.59,251.4 v-1.5 M186.91,251.4 v-1.5 M195.66,251.4 v-1.5 M202.44,251.4 v-1.5 M207.99,251.4 v-1.5 M212.68,251.4 v-1.5 M216.74,251.4 v-1.5 M220.32,251.4 v-1.5 M223.52,251.4 v-4.3 M244.60,251.4 v-1.5 M256.92,251.4 v-1.5 M265.67,251.4 v-1.5 M272.45,251.4 v-1.5 M278.00,251.4 v-1.5 M282.69,251.4 v-1.5 M286.75,251.4 v-1.5 M290.33,251.4 v-1.5 M293.53,251.4 v-4.3 M314.61,251.4 v-1.5 M326.93,251.4 v-1.5 M335.68,251.4 v-1.5 M342.46,251.4 v-1.5 M348.01,251.4 v-1.5 M352.70,251.4 v-1.5 M356.76,251.4 v-1.5 M360.34,251.4 v-1.5 M363.54,251.4 v-4.3 M384.62,251.4 v-1.5 M396.94,251.4 v-1.5 M405.69,251.4 v-1.5 M412.47,251.4 v-1.5 M418.02,251.4 v-1.5 M422.71,251.4 v-1.5 M426.77,251.4 v-1.5 M430.35,251.4 v-1.5" fill="none" stroke="#2a2a2a" stroke-width="0.72"/>
<text x="79.6" y="255.55" text-anchor="end" font-size="11.3">0.0</text>
<text x="79.6" y="212.23" text-anchor="end" font-size="11.3">0.2</text>
<text x="79.6" y="168.91" text-anchor="end" font-size="11.3">0.4</text>
<text x="79.6" y="125.59" text-anchor="end" font-size="11.3">0.6</text>
<text x="79.6" y="82.27" text-anchor="end" font-size="11.3">0.8</text>
<text x="79.6" y="38.95" text-anchor="end" font-size="11.3">1.0</text>
<text x="75.75" y="268.1" font-size="11.6">10</text><text x="86.95" y="262.9" font-size="8.3">5</text>
<text x="145.76" y="268.1" font-size="11.6">10</text><text x="156.96" y="262.9" font-size="8.3">6</text>
<text x="215.77" y="268.1" font-size="11.6">10</text><text x="226.97" y="262.9" font-size="8.3">7</text>
<text x="285.78" y="268.1" font-size="11.6">10</text><text x="296.98" y="262.9" font-size="8.3">8</text>
<text x="355.79" y="268.1" font-size="11.6">10</text><text x="366.99" y="262.9" font-size="8.3">9</text>
<text x="423.75" y="268.1" font-size="11.6">10</text><text x="434.95" y="262.9" font-size="8.3">10</text>
<text x="258.525" y="26.35" text-anchor="middle" font-size="15.3">I</text>
<text x="258.42499999999995" y="287.5" text-anchor="middle" font-size="22.5">x</text>
<text x="4.2" y="149.3" font-size="21.8" font-style="italic">E</text>
<text x="18.80 24.10 31.60 35.00 43.70 47.90 55.20" y="137.9" font-size="15.3">(1,3;2)</text>
<g transform="translate(19.15,154.5) scale(0.9,1)" fill="#111" stroke="#111" stroke-linecap="round" stroke-linejoin="round"><path d="M0.1,-0.2 C1.1,-0.3 1.7,-1.3 2.3,-3.1 L4.5,-10.3" fill="none" stroke-width="0.85"/><path d="M3.8,-10.6 L6.1,-10.5 L10.6,-0.6 L9.5,0.2 Z" stroke-width="0.3"/><path d="M10.1,-0.1 L12.6,-9.5 C12.8,-10.2 13.2,-10.6 13.8,-10.6" fill="none" stroke-width="0.8"/></g>
<text transform="translate(35.40,154.5) scale(1.21,1)" font-size="15.6" font-style="italic">μ</text>
<path d="M560.45,34.80000000000001 H911.3500000000001 V251.4" fill="none" stroke="#a8a8a8" stroke-width="1.0"/>
<path d="M560.45,63.65 L560.95,63.65 L561.45,63.65 L561.95,63.65 L562.46,63.65 L562.96,63.65 L563.46,63.65 L563.96,63.65 L564.46,63.65 L564.96,63.65 L565.46,63.65 L565.96,63.65 L566.47,63.65 L566.97,63.65 L567.47,63.65 L567.97,63.65 L568.47,63.65 L568.97,63.65 L569.47,63.65 L569.97,63.65 L570.48,63.65 L570.98,63.65 L571.48,63.65 L571.98,63.65 L572.48,63.65 L572.98,63.65 L573.48,63.65 L573.98,63.65 L574.49,63.65 L574.99,63.65 L575.49,63.65 L575.99,63.65 L576.49,63.65 L576.99,63.65 L577.49,63.65 L578.00,63.65 L578.50,63.65 L579.00,63.65 L579.50,63.65 L580.00,63.65 L580.50,63.65 L581.00,63.65 L581.50,63.66 L582.01,63.66 L582.51,63.66 L583.01,63.66 L583.51,63.66 L584.01,63.66 L584.51,63.66 L585.01,63.66 L585.51,63.66 L586.02,63.66 L586.52,63.66 L587.02,63.66 L587.52,63.66 L588.02,63.66 L588.52,63.66 L589.02,63.66 L589.52,63.66 L590.03,63.66 L590.53,63.66 L591.03,63.66 L591.53,63.66 L592.03,63.66 L592.53,63.66 L593.03,63.66 L593.53,63.66 L594.04,63.66 L594.54,63.66 L595.04,63.66 L595.54,63.66 L596.04,63.67 L596.54,63.67 L597.04,63.67 L597.55,63.67 L598.05,63.67 L598.55,63.67 L599.05,63.67 L599.55,63.67 L600.05,63.67 L600.55,63.67 L601.05,63.67 L601.56,63.67 L602.06,63.67 L602.56,63.67 L603.06,63.67 L603.56,63.68 L604.06,63.68 L604.56,63.68 L605.06,63.68 L605.57,63.68 L606.07,63.68 L606.57,63.68 L607.07,63.68 L607.57,63.68 L608.07,63.69 L608.57,63.69 L609.07,63.69 L609.58,63.69 L610.08,63.69 L610.58,63.69 L611.08,63.69 L611.58,63.69 L612.08,63.70 L612.58,63.70 L613.09,63.70 L613.59,63.70 L614.09,63.70 L614.59,63.70 L615.09,63.71 L615.59,63.71 L616.09,63.71 L616.59,63.71 L617.10,63.72 L617.60,63.72 L618.10,63.72 L618.60,63.72 L619.10,63.72 L619.60,63.73 L620.10,63.73 L620.60,63.73 L621.11,63.74 L621.61,63.74 L622.11,63.74 L622.61,63.75 L623.11,63.75 L623.61,63.75 L624.11,63.76 L624.61,63.76 L625.12,63.76 L625.62,63.77 L626.12,63.77 L626.62,63.78 L627.12,63.78 L627.62,63.78 L628.12,63.79 L628.62,63.79 L629.13,63.80 L629.63,63.80 L630.13,63.81 L630.63,63.81 L631.13,63.82 L631.63,63.83 L632.13,63.83 L632.64,63.84 L633.14,63.84 L633.64,63.85 L634.14,63.86 L634.64,63.87 L635.14,63.87 L635.64,63.88 L636.14,63.89 L636.65,63.90 L637.15,63.91 L637.65,63.91 L638.15,63.92 L638.65,63.93 L639.15,63.94 L639.65,63.95 L640.15,63.96 L640.66,63.97 L641.16,63.99 L641.66,64.00 L642.16,64.01 L642.66,64.02 L643.16,64.03 L643.66,64.05 L644.16,64.06 L644.67,64.08 L645.17,64.09 L645.67,64.11 L646.17,64.12 L646.67,64.14 L647.17,64.15 L647.67,64.17 L648.18,64.19 L648.68,64.21 L649.18,64.23 L649.68,64.25 L650.18,64.27 L650.68,64.29 L651.18,64.31 L651.68,64.33 L652.19,64.36 L652.69,64.38 L653.19,64.41 L653.69,64.43 L654.19,64.46 L654.69,64.49 L655.19,64.52 L655.69,64.55 L656.20,64.58 L656.70,64.61 L657.20,64.64 L657.70,64.68 L658.20,64.71 L658.70,64.75 L659.20,64.79 L659.70,64.82 L660.21,64.86 L660.71,64.91 L661.21,64.95 L661.71,64.99 L662.21,65.04 L662.71,65.09 L663.21,65.14 L663.71,65.19 L664.22,65.24 L664.72,65.29 L665.22,65.35 L665.72,65.41 L666.22,65.47 L666.72,65.53 L667.22,65.59 L667.73,65.66 L668.23,65.73 L668.73,65.80 L669.23,65.87 L669.73,65.94 L670.23,66.02 L670.73,66.10 L671.23,66.18 L671.74,66.27 L672.24,66.36 L672.74,66.45 L673.24,66.54 L673.74,66.64 L674.24,66.74 L674.74,66.84 L675.24,66.95 L675.75,67.06 L676.25,67.18 L676.75,67.29 L677.25,67.41 L677.75,67.54 L678.25,67.67 L678.75,67.80 L679.25,67.94 L679.76,68.08 L680.26,68.23 L680.76,68.38 L681.26,68.54 L681.76,68.70 L682.26,68.86 L682.76,69.03 L683.27,69.21 L683.77,69.39 L684.27,69.58 L684.77,69.77 L685.27,69.97 L685.77,70.17 L686.27,70.38 L686.77,70.60 L687.28,70.83 L687.78,71.06 L688.28,71.29 L688.78,71.54 L689.28,71.79 L689.78,72.04 L690.28,72.31 L690.78,72.58 L691.29,72.86 L691.79,73.15 L692.29,73.45 L692.79,73.75 L693.29,74.07 L693.79,74.39 L694.29,74.72 L694.79,75.06 L695.30,75.40 L695.80,75.76 L696.30,76.13 L696.80,76.50 L697.30,76.88 L697.80,77.28 L698.30,77.68 L698.80,78.09 L699.31,78.52 L699.81,78.95 L700.31,79.39 L700.81,79.84 L701.31,80.31 L701.81,80.78 L702.31,81.26 L702.82,81.75 L703.32,82.25 L703.82,82.77 L704.32,83.29 L704.82,83.82 L705.32,84.36 L705.82,84.91 L706.32,85.47 L706.83,86.04 L707.33,86.62 L707.83,87.20 L708.33,87.80 L708.83,88.40 L709.33,89.01 L709.83,89.63 L710.33,90.25 L710.84,90.89 L711.34,91.52 L711.84,92.17 L712.34,92.82 L712.84,93.47 L713.34,94.13 L713.84,94.79 L714.34,95.45 L714.85,96.12 L715.35,96.79 L715.85,97.46 L716.35,98.13 L716.85,98.79 L717.35,99.46 L717.85,100.13 L718.36,100.79 L718.86,101.44 L719.36,102.09 L719.86,102.74 L720.36,103.38 L720.86,104.01 L721.36,104.63 L721.86,105.25 L722.37,105.85 L722.87,106.44 L723.37,107.02 L723.87,107.59 L724.37,108.14 L724.87,108.68 L725.37,109.21 L725.87,109.71 L726.38,110.21 L726.88,110.68 L727.38,111.14 L727.88,111.58 L728.38,112.00 L728.88,112.40 L729.38,112.78 L729.88,113.15 L730.39,113.50 L730.89,113.82 L731.39,114.13 L731.89,114.42 L732.39,114.69 L732.89,114.95 L733.39,115.18 L733.89,115.40 L734.40,115.60 L734.90,115.79 L735.40,115.96 L735.90,116.11 L736.40,116.26 L736.90,116.39 L737.40,116.50 L737.91,116.61 L738.41,116.70 L738.91,116.78 L739.41,116.86 L739.91,116.93 L740.41,116.99 L740.91,117.04 L741.41,117.08 L741.92,117.13 L742.42,117.16 L742.92,117.19 L743.42,117.22 L743.92,117.25 L744.42,117.27 L744.92,117.29 L745.42,117.31 L745.93,117.33 L746.43,117.35 L746.93,117.36 L747.43,117.38 L747.93,117.39 L748.43,117.41 L748.93,117.42 L749.43,117.44 L749.94,117.45 L750.44,117.47 L750.94,117.48 L751.44,117.50 L751.94,117.51 L752.44,117.53 L752.94,117.55 L753.45,117.57 L753.95,117.59 L754.45,117.60 L754.95,117.63 L755.45,117.65 L755.95,117.67 L756.45,117.69 L756.95,117.71 L757.46,117.74 L757.96,117.76 L758.46,117.79 L758.96,117.81 L759.46,117.84 L759.96,117.87 L760.46,117.90 L760.96,117.93 L761.47,117.96 L761.97,117.99 L762.47,118.03 L762.97,118.06 L763.47,118.10 L763.97,118.14 L764.47,118.18 L764.97,118.22 L765.48,118.26 L765.98,118.30 L766.48,118.35 L766.98,118.39 L767.48,118.44 L767.98,118.49 L768.48,118.54 L768.98,118.60 L769.49,118.65 L769.99,118.71 L770.49,118.77 L770.99,118.83 L771.49,118.90 L771.99,118.96 L772.49,119.03 L773.00,119.10 L773.50,119.17 L774.00,119.25 L774.50,119.33 L775.00,119.41 L775.50,119.49 L776.00,119.58 L776.50,119.67 L777.01,119.76 L777.51,119.86 L778.01,119.96 L778.51,120.06 L779.01,120.17 L779.51,120.28 L780.01,120.40 L780.51,120.52 L781.02,120.64 L781.52,120.77 L782.02,120.90 L782.52,121.04 L783.02,121.18 L783.52,121.32 L784.02,121.47 L784.52,121.63 L785.03,121.79 L785.53,121.96 L786.03,122.13 L786.53,122.31 L787.03,122.50 L787.53,122.69 L788.03,122.89 L788.54,123.09 L789.04,123.31 L789.54,123.53 L790.04,123.75 L790.54,123.99 L791.04,124.23 L791.54,124.48 L792.04,124.74 L792.55,125.01 L793.05,125.29 L793.55,125.57 L794.05,125.87 L794.55,126.17 L795.05,126.49 L795.55,126.82 L796.05,127.15 L796.56,127.50 L797.06,127.86 L797.56,128.24 L798.06,128.62 L798.56,129.02 L799.06,129.43 L799.56,129.85 L800.06,130.29 L800.57,130.74 L801.07,131.20 L801.57,131.68 L802.07,132.18 L802.57,132.69 L803.07,133.22 L803.57,133.76 L804.07,134.32 L804.58,134.90 L805.08,135.49 L805.58,136.11 L806.08,136.74 L806.58,137.39 L807.08,138.06 L807.58,138.75 L808.09,139.47 L808.59,140.20 L809.09,140.95 L809.59,141.73 L810.09,142.52 L810.59,143.34 L811.09,144.19 L811.59,145.05 L812.10,145.94 L812.60,146.86 L813.10,147.79 L813.60,148.76 L814.10,149.75 L814.60,150.76 L815.10,151.80 L815.60,152.86 L816.11,153.96 L816.61,155.08 L817.11,156.22 L817.61,157.39 L818.11,158.59 L818.61,159.82 L819.11,161.07 L819.61,162.35 L820.12,163.66 L820.62,164.99 L821.12,166.35 L821.62,167.74 L822.12,169.15 L822.62,170.59 L823.12,172.05 L823.62,173.54 L824.13,175.05 L824.63,176.59 L825.13,178.14 L825.63,179.72 L826.13,181.32 L826.63,182.94 L827.13,184.58 L827.64,186.24 L828.14,187.91 L828.64,189.60 L829.14,191.30 L829.64,193.01 L830.14,194.74 L830.64,196.47 L831.14,198.21 L831.65,199.95 L832.15,201.69 L832.65,203.44 L833.15,205.18 L833.65,206.92 L834.15,208.65 L834.65,210.38 L835.15,212.09 L835.66,213.79 L836.16,215.47 L836.66,217.14 L837.16,218.78 L837.66,220.40 L838.16,221.99 L838.66,223.55 L839.16,225.08 L839.67,226.58 L840.17,228.04 L840.67,229.47 L841.17,230.85 L841.67,232.19 L842.17,233.49 L842.67,234.74 L843.18,235.94 L843.68,237.10 L844.18,238.21 L844.68,239.26 L845.18,240.27 L845.68,241.22 L846.18,242.12 L846.68,242.97 L847.19,243.77 L847.69,244.52 L848.19,245.21 L848.69,245.86 L849.19,246.46 L849.69,247.01 L850.19,247.52 L850.69,247.99 L851.20,248.41 L851.70,248.79 L852.20,249.14 L852.70,249.44 L853.20,249.72 L853.70,249.97 L854.20,250.18 L854.70,250.37 L855.21,250.54 L855.71,250.68 L856.21,250.80 L856.71,250.91 L857.21,251.00 L857.71,251.07 L858.21,251.14 L858.72,251.19 L859.22,251.23 L859.72,251.27 L860.22,251.30 L860.72,251.32 L861.22,251.34 L861.72,251.35 L862.22,251.37 L862.73,251.37 L863.23,251.38 L863.73,251.39 L864.23,251.39 L864.73,251.39 L865.23,251.40 L865.73,251.40 L866.23,251.40 L866.74,251.40 L867.24,251.40 L867.74,251.40 L868.24,251.40 L868.74,251.40 L869.24,251.40 L869.74,251.40 L870.24,251.40 L870.75,251.40 L871.25,251.40 L871.75,251.40 L872.25,251.40 L872.75,251.40 L873.25,251.40 L873.75,251.40 L874.25,251.40 L874.76,251.40 L875.26,251.40 L875.76,251.40 L876.26,251.40 L876.76,251.40 L877.26,251.40 L877.76,251.40 L878.27,251.40 L878.77,251.40 L879.27,251.40 L879.77,251.40 L880.27,251.40 L880.77,251.40 L881.27,251.40 L881.77,251.40 L882.28,251.40 L882.78,251.40 L883.28,251.40 L883.78,251.40 L884.28,251.40 L884.78,251.40 L885.28,251.40 L885.78,251.40 L886.29,251.40 L886.79,251.40 L887.29,251.40 L887.79,251.40 L888.29,251.40 L888.79,251.40 L889.29,251.40 L889.79,251.40 L890.30,251.40 L890.80,251.40 L891.30,251.40 L891.80,251.40 L892.30,251.40 L892.80,251.40 L893.30,251.40 L893.81,251.40 L894.31,251.40 L894.81,251.40 L895.31,251.40 L895.81,251.40 L896.31,251.40 L896.81,251.40 L897.31,251.40 L897.82,251.40 L898.32,251.40 L898.82,251.40 L899.32,251.40 L899.82,251.40 L900.32,251.40 L900.82,251.40 L901.32,251.40 L901.83,251.40 L902.33,251.40 L902.83,251.40 L903.33,251.40 L903.83,251.40 L904.33,251.40 L904.83,251.40 L905.33,251.40 L905.84,251.40 L906.34,251.40 L906.84,251.40 L907.34,251.40 L907.84,251.40 L908.34,251.40 L908.84,251.40 L909.34,251.40 L909.85,251.40 L910.35,251.40 L910.85,251.40 L911.35,251.40" fill="none" stroke="#ff0000" stroke-width="1.05" stroke-dasharray="1.8 4.42" stroke-dashoffset="0.4"/>
<path d="M560.45,75.00 L560.95,75.00 L561.45,75.00 L561.95,75.00 L562.46,75.00 L562.96,75.00 L563.46,75.00 L563.96,75.00 L564.46,75.00 L564.96,75.00 L565.46,75.00 L565.96,75.00 L566.47,75.00 L566.97,75.00 L567.47,75.00 L567.97,75.00 L568.47,75.00 L568.97,75.00 L569.47,75.00 L569.97,75.00 L570.48,75.00 L570.98,75.00 L571.48,75.00 L571.98,75.00 L572.48,75.00 L572.98,75.00 L573.48,75.00 L573.98,75.00 L574.49,75.00 L574.99,75.00 L575.49,75.00 L575.99,75.00 L576.49,75.00 L576.99,75.00 L577.49,75.00 L578.00,75.00 L578.50,75.00 L579.00,75.00 L579.50,75.00 L580.00,75.00 L580.50,75.00 L581.00,75.00 L581.50,75.00 L582.01,75.00 L582.51,75.00 L583.01,75.00 L583.51,75.00 L584.01,75.00 L584.51,75.00 L585.01,75.00 L585.51,75.00 L586.02,75.00 L586.52,75.00 L587.02,75.00 L587.52,75.00 L588.02,75.01 L588.52,75.01 L589.02,75.01 L589.52,75.01 L590.03,75.01 L590.53,75.01 L591.03,75.01 L591.53,75.01 L592.03,75.01 L592.53,75.01 L593.03,75.01 L593.53,75.01 L594.04,75.01 L594.54,75.01 L595.04,75.01 L595.54,75.01 L596.04,75.01 L596.54,75.01 L597.04,75.01 L597.55,75.01 L598.05,75.01 L598.55,75.01 L599.05,75.01 L599.55,75.01 L600.05,75.01 L600.55,75.01 L601.05,75.01 L601.56,75.01 L602.06,75.02 L602.56,75.02 L603.06,75.02 L603.56,75.02 L604.06,75.02 L604.56,75.02 L605.06,75.02 L605.57,75.02 L606.07,75.02 L606.57,75.02 L607.07,75.02 L607.57,75.02 L608.07,75.02 L608.57,75.02 L609.07,75.03 L609.58,75.03 L610.08,75.03 L610.58,75.03 L611.08,75.03 L611.58,75.03 L612.08,75.03 L612.58,75.03 L613.09,75.03 L613.59,75.04 L614.09,75.04 L614.59,75.04 L615.09,75.04 L615.59,75.04 L616.09,75.04 L616.59,75.04 L617.10,75.05 L617.60,75.05 L618.10,75.05 L618.60,75.05 L619.10,75.05 L619.60,75.05 L620.10,75.06 L620.60,75.06 L621.11,75.06 L621.61,75.06 L622.11,75.07 L622.61,75.07 L623.11,75.07 L623.61,75.07 L624.11,75.08 L624.61,75.08 L625.12,75.08 L625.62,75.08 L626.12,75.09 L626.62,75.09 L627.12,75.09 L627.62,75.10 L628.12,75.10 L628.62,75.10 L629.13,75.11 L629.63,75.11 L630.13,75.12 L630.63,75.12 L631.13,75.12 L631.63,75.13 L632.13,75.13 L632.64,75.14 L633.14,75.14 L633.64,75.15 L634.14,75.15 L634.64,75.16 L635.14,75.16 L635.64,75.17 L636.14,75.18 L636.65,75.18 L637.15,75.19 L637.65,75.20 L638.15,75.20 L638.65,75.21 L639.15,75.22 L639.65,75.23 L640.15,75.23 L640.66,75.24 L641.16,75.25 L641.66,75.26 L642.16,75.27 L642.66,75.28 L643.16,75.29 L643.66,75.30 L644.16,75.31 L644.67,75.32 L645.17,75.33 L645.67,75.35 L646.17,75.36 L646.67,75.37 L647.17,75.38 L647.67,75.40 L648.18,75.41 L648.68,75.43 L649.18,75.44 L649.68,75.46 L650.18,75.47 L650.68,75.49 L651.18,75.51 L651.68,75.53 L652.19,75.55 L652.69,75.57 L653.19,75.59 L653.69,75.61 L654.19,75.63 L654.69,75.65 L655.19,75.67 L655.69,75.70 L656.20,75.72 L656.70,75.75 L657.20,75.78 L657.70,75.80 L658.20,75.83 L658.70,75.86 L659.20,75.89 L659.70,75.92 L660.21,75.96 L660.71,75.99 L661.21,76.03 L661.71,76.06 L662.21,76.10 L662.71,76.14 L663.21,76.18 L663.71,76.22 L664.22,76.26 L664.72,76.31 L665.22,76.36 L665.72,76.40 L666.22,76.45 L666.72,76.51 L667.22,76.56 L667.73,76.61 L668.23,76.67 L668.73,76.73 L669.23,76.79 L669.73,76.85 L670.23,76.92 L670.73,76.99 L671.23,77.06 L671.74,77.13 L672.24,77.20 L672.74,77.28 L673.24,77.36 L673.74,77.44 L674.24,77.53 L674.74,77.61 L675.24,77.71 L675.75,77.80 L676.25,77.90 L676.75,78.00 L677.25,78.10 L677.75,78.21 L678.25,78.32 L678.75,78.44 L679.25,78.55 L679.76,78.68 L680.26,78.80 L680.76,78.93 L681.26,79.07 L681.76,79.21 L682.26,79.35 L682.76,79.50 L683.27,79.65 L683.77,79.81 L684.27,79.98 L684.77,80.14 L685.27,80.32 L685.77,80.50 L686.27,80.68 L686.77,80.87 L687.28,81.07 L687.78,81.27 L688.28,81.48 L688.78,81.70 L689.28,81.92 L689.78,82.15 L690.28,82.38 L690.78,82.63 L691.29,82.88 L691.79,83.13 L692.29,83.40 L692.79,83.67 L693.29,83.95 L693.79,84.24 L694.29,84.53 L694.79,84.84 L695.30,85.15 L695.80,85.47 L696.30,85.80 L696.80,86.14 L697.30,86.48 L697.80,86.84 L698.30,87.20 L698.80,87.58 L699.31,87.96 L699.81,88.35 L700.31,88.76 L700.81,89.17 L701.31,89.59 L701.81,90.02 L702.31,90.46 L702.82,90.91 L703.32,91.37 L703.82,91.83 L704.32,92.31 L704.82,92.80 L705.32,93.29 L705.82,93.80 L706.32,94.31 L706.83,94.83 L707.33,95.36 L707.83,95.90 L708.33,96.45 L708.83,97.01 L709.33,97.57 L709.83,98.14 L710.33,98.71 L710.84,99.29 L711.34,99.88 L711.84,100.48 L712.34,101.07 L712.84,101.68 L713.34,102.28 L713.84,102.89 L714.34,103.50 L714.85,104.11 L715.35,104.73 L715.85,105.34 L716.35,105.95 L716.85,106.57 L717.35,107.18 L717.85,107.78 L718.36,108.39 L718.86,108.99 L719.36,109.58 L719.86,110.17 L720.36,110.74 L720.86,111.32 L721.36,111.88 L721.86,112.43 L722.37,112.97 L722.87,113.50 L723.37,114.02 L723.87,114.52 L724.37,115.01 L724.87,115.49 L725.37,115.95 L725.87,116.39 L726.38,116.82 L726.88,117.23 L727.38,117.62 L727.88,118.00 L728.38,118.36 L728.88,118.70 L729.38,119.02 L729.88,119.33 L730.39,119.61 L730.89,119.88 L731.39,120.13 L731.89,120.37 L732.39,120.59 L732.89,120.79 L733.39,120.97 L733.89,121.14 L734.40,121.30 L734.90,121.44 L735.40,121.57 L735.90,121.68 L736.40,121.79 L736.90,121.88 L737.40,121.96 L737.91,122.04 L738.41,122.10 L738.91,122.16 L739.41,122.21 L739.91,122.26 L740.41,122.30 L740.91,122.33 L741.41,122.36 L741.92,122.39 L742.42,122.42 L742.92,122.44 L743.42,122.46 L743.92,122.48 L744.42,122.49 L744.92,122.51 L745.42,122.52 L745.93,122.54 L746.43,122.55 L746.93,122.56 L747.43,122.58 L747.93,122.59 L748.43,122.60 L748.93,122.62 L749.43,122.63 L749.94,122.65 L750.44,122.66 L750.94,122.68 L751.44,122.69 L751.94,122.71 L752.44,122.73 L752.94,122.74 L753.45,122.76 L753.95,122.78 L754.45,122.80 L754.95,122.82 L755.45,122.84 L755.95,122.86 L756.45,122.88 L756.95,122.91 L757.46,122.93 L757.96,122.96 L758.46,122.98 L758.96,123.01 L759.46,123.04 L759.96,123.06 L760.46,123.09 L760.96,123.12 L761.47,123.16 L761.97,123.19 L762.47,123.22 L762.97,123.26 L763.47,123.29 L763.97,123.33 L764.47,123.37 L764.97,123.41 L765.48,123.45 L765.98,123.50 L766.48,123.54 L766.98,123.59 L767.48,123.64 L767.98,123.68 L768.48,123.74 L768.98,123.79 L769.49,123.84 L769.99,123.90 L770.49,123.96 L770.99,124.02 L771.49,124.08 L771.99,124.15 L772.49,124.22 L773.00,124.29 L773.50,124.36 L774.00,124.43 L774.50,124.51 L775.00,124.59 L775.50,124.67 L776.00,124.76 L776.50,124.85 L777.01,124.94 L777.51,125.04 L778.01,125.14 L778.51,125.24 L779.01,125.34 L779.51,125.45 L780.01,125.56 L780.51,125.68 L781.02,125.80 L781.52,125.93 L782.02,126.06 L782.52,126.19 L783.02,126.33 L783.52,126.47 L784.02,126.62 L784.52,126.77 L785.03,126.93 L785.53,127.09 L786.03,127.26 L786.53,127.44 L787.03,127.62 L787.53,127.81 L788.03,128.00 L788.54,128.20 L789.04,128.41 L789.54,128.62 L790.04,128.84 L790.54,129.07 L791.04,129.30 L791.54,129.55 L792.04,129.80 L792.55,130.06 L793.05,130.33 L793.55,130.61 L794.05,130.90 L794.55,131.19 L795.05,131.50 L795.55,131.81 L796.05,132.14 L796.56,132.48 L797.06,132.83 L797.56,133.19 L798.06,133.56 L798.56,133.94 L799.06,134.34 L799.56,134.75 L800.06,135.17 L800.57,135.60 L801.07,136.05 L801.57,136.51 L802.07,136.99 L802.57,137.48 L803.07,137.99 L803.57,138.51 L804.07,139.05 L804.58,139.60 L805.08,140.17 L805.58,140.76 L806.08,141.37 L806.58,141.99 L807.08,142.64 L807.58,143.30 L808.09,143.98 L808.59,144.68 L809.09,145.40 L809.59,146.14 L810.09,146.90 L810.59,147.69 L811.09,148.49 L811.59,149.32 L812.10,150.17 L812.60,151.04 L813.10,151.93 L813.60,152.85 L814.10,153.79 L814.60,154.76 L815.10,155.75 L815.60,156.76 L816.11,157.80 L816.61,158.87 L817.11,159.96 L817.61,161.07 L818.11,162.21 L818.61,163.37 L819.11,164.56 L819.61,165.78 L820.12,167.02 L820.62,168.29 L821.12,169.58 L821.62,170.89 L822.12,172.23 L822.62,173.59 L823.12,174.98 L823.62,176.39 L824.13,177.82 L824.63,179.28 L825.13,180.76 L825.63,182.25 L826.13,183.77 L826.63,185.31 L827.13,186.86 L827.64,188.43 L828.14,190.01 L828.64,191.61 L829.14,193.23 L829.64,194.85 L830.14,196.48 L830.64,198.13 L831.14,199.77 L831.65,201.43 L832.15,203.08 L832.65,204.74 L833.15,206.40 L833.65,208.05 L834.15,209.70 L834.65,211.34 L835.15,212.97 L835.66,214.59 L836.16,216.19 L836.66,217.78 L837.16,219.35 L837.66,220.89 L838.16,222.42 L838.66,223.91 L839.16,225.38 L839.67,226.82 L840.17,228.23 L840.67,229.60 L841.17,230.93 L841.67,232.23 L842.17,233.48 L842.67,234.69 L843.18,235.86 L843.68,236.99 L844.18,238.07 L844.68,239.10 L845.18,240.09 L845.68,241.02 L846.18,241.91 L846.68,242.75 L847.19,243.54 L847.69,244.29 L848.19,244.98 L848.69,245.63 L849.19,246.23 L849.69,246.79 L850.19,247.30 L850.69,247.78 L851.20,248.21 L851.70,248.60 L852.20,248.96 L852.70,249.28 L853.20,249.57 L853.70,249.82 L854.20,250.05 L854.70,250.25 L855.21,250.43 L855.71,250.58 L856.21,250.72 L856.71,250.83 L857.21,250.93 L857.71,251.02 L858.21,251.09 L858.72,251.15 L859.22,251.20 L859.72,251.24 L860.22,251.27 L860.72,251.30 L861.22,251.32 L861.72,251.34 L862.22,251.36 L862.73,251.37 L863.23,251.37 L863.73,251.38 L864.23,251.39 L864.73,251.39 L865.23,251.39 L865.73,251.40 L866.23,251.40 L866.74,251.40 L867.24,251.40 L867.74,251.40 L868.24,251.40 L868.74,251.40 L869.24,251.40 L869.74,251.40 L870.24,251.40 L870.75,251.40 L871.25,251.40 L871.75,251.40 L872.25,251.40 L872.75,251.40 L873.25,251.40 L873.75,251.40 L874.25,251.40 L874.76,251.40 L875.26,251.40 L875.76,251.40 L876.26,251.40 L876.76,251.40 L877.26,251.40 L877.76,251.40 L878.27,251.40 L878.77,251.40 L879.27,251.40 L879.77,251.40 L880.27,251.40 L880.77,251.40 L881.27,251.40 L881.77,251.40 L882.28,251.40 L882.78,251.40 L883.28,251.40 L883.78,251.40 L884.28,251.40 L884.78,251.40 L885.28,251.40 L885.78,251.40 L886.29,251.40 L886.79,251.40 L887.29,251.40 L887.79,251.40 L888.29,251.40 L888.79,251.40 L889.29,251.40 L889.79,251.40 L890.30,251.40 L890.80,251.40 L891.30,251.40 L891.80,251.40 L892.30,251.40 L892.80,251.40 L893.30,251.40 L893.81,251.40 L894.31,251.40 L894.81,251.40 L895.31,251.40 L895.81,251.40 L896.31,251.40 L896.81,251.40 L897.31,251.40 L897.82,251.40 L898.32,251.40 L898.82,251.40 L899.32,251.40 L899.82,251.40 L900.32,251.40 L900.82,251.40 L901.32,251.40 L901.83,251.40 L902.33,251.40 L902.83,251.40 L903.33,251.40 L903.83,251.40 L904.33,251.40 L904.83,251.40 L905.33,251.40 L905.84,251.40 L906.34,251.40 L906.84,251.40 L907.34,251.40 L907.84,251.40 L908.34,251.40 L908.84,251.40 L909.34,251.40 L909.85,251.40 L910.35,251.40 L910.85,251.40 L911.35,251.40" fill="none" stroke="#0000ff" stroke-width="1.05" stroke-dasharray="5.4 3.3"/>
<path d="M560.45,89.50 L560.95,89.50 L561.45,89.50 L561.95,89.50 L562.46,89.50 L562.96,89.50 L563.46,89.50 L563.96,89.50 L564.46,89.50 L564.96,89.50 L565.46,89.50 L565.96,89.50 L566.47,89.50 L566.97,89.50 L567.47,89.50 L567.97,89.50 L568.47,89.50 L568.97,89.50 L569.47,89.50 L569.97,89.50 L570.48,89.50 L570.98,89.50 L571.48,89.50 L571.98,89.50 L572.48,89.50 L572.98,89.50 L573.48,89.50 L573.98,89.50 L574.49,89.50 L574.99,89.50 L575.49,89.50 L575.99,89.50 L576.49,89.50 L576.99,89.50 L577.49,89.50 L578.00,89.50 L578.50,89.50 L579.00,89.50 L579.50,89.50 L580.00,89.50 L580.50,89.50 L581.00,89.50 L581.50,89.51 L582.01,89.51 L582.51,89.51 L583.01,89.51 L583.51,89.51 L584.01,89.51 L584.51,89.51 L585.01,89.51 L585.51,89.51 L586.02,89.51 L586.52,89.51 L587.02,89.51 L587.52,89.51 L588.02,89.51 L588.52,89.51 L589.02,89.51 L589.52,89.51 L590.03,89.51 L590.53,89.51 L591.03,89.51 L591.53,89.51 L592.03,89.51 L592.53,89.51 L593.03,89.51 L593.53,89.51 L594.04,89.51 L594.54,89.51 L595.04,89.51 L595.54,89.51 L596.04,89.51 L596.54,89.51 L597.04,89.51 L597.55,89.51 L598.05,89.51 L598.55,89.51 L599.05,89.51 L599.55,89.51 L600.05,89.51 L600.55,89.52 L601.05,89.52 L601.56,89.52 L602.06,89.52 L602.56,89.52 L603.06,89.52 L603.56,89.52 L604.06,89.52 L604.56,89.52 L605.06,89.52 L605.57,89.52 L606.07,89.52 L606.57,89.52 L607.07,89.52 L607.57,89.52 L608.07,89.52 L608.57,89.53 L609.07,89.53 L609.58,89.53 L610.08,89.53 L610.58,89.53 L611.08,89.53 L611.58,89.53 L612.08,89.53 L612.58,89.53 L613.09,89.53 L613.59,89.54 L614.09,89.54 L614.59,89.54 L615.09,89.54 L615.59,89.54 L616.09,89.54 L616.59,89.54 L617.10,89.54 L617.60,89.55 L618.10,89.55 L618.60,89.55 L619.10,89.55 L619.60,89.55 L620.10,89.56 L620.60,89.56 L621.11,89.56 L621.61,89.56 L622.11,89.56 L622.61,89.57 L623.11,89.57 L623.61,89.57 L624.11,89.57 L624.61,89.57 L625.12,89.58 L625.62,89.58 L626.12,89.58 L626.62,89.59 L627.12,89.59 L627.62,89.59 L628.12,89.60 L628.62,89.60 L629.13,89.60 L629.63,89.61 L630.13,89.61 L630.63,89.61 L631.13,89.62 L631.63,89.62 L632.13,89.63 L632.64,89.63 L633.14,89.63 L633.64,89.64 L634.14,89.64 L634.64,89.65 L635.14,89.65 L635.64,89.66 L636.14,89.67 L636.65,89.67 L637.15,89.68 L637.65,89.68 L638.15,89.69 L638.65,89.70 L639.15,89.70 L639.65,89.71 L640.15,89.72 L640.66,89.73 L641.16,89.73 L641.66,89.74 L642.16,89.75 L642.66,89.76 L643.16,89.77 L643.66,89.78 L644.16,89.79 L644.67,89.80 L645.17,89.81 L645.67,89.82 L646.17,89.83 L646.67,89.84 L647.17,89.85 L647.67,89.87 L648.18,89.88 L648.68,89.89 L649.18,89.91 L649.68,89.92 L650.18,89.93 L650.68,89.95 L651.18,89.97 L651.68,89.98 L652.19,90.00 L652.69,90.02 L653.19,90.03 L653.69,90.05 L654.19,90.07 L654.69,90.09 L655.19,90.11 L655.69,90.14 L656.20,90.16 L656.70,90.18 L657.20,90.20 L657.70,90.23 L658.20,90.26 L658.70,90.28 L659.20,90.31 L659.70,90.34 L660.21,90.37 L660.71,90.40 L661.21,90.43 L661.71,90.46 L662.21,90.49 L662.71,90.53 L663.21,90.57 L663.71,90.60 L664.22,90.64 L664.72,90.68 L665.22,90.72 L665.72,90.77 L666.22,90.81 L666.72,90.85 L667.22,90.90 L667.73,90.95 L668.23,91.00 L668.73,91.05 L669.23,91.11 L669.73,91.16 L670.23,91.22 L670.73,91.28 L671.23,91.34 L671.74,91.41 L672.24,91.47 L672.74,91.54 L673.24,91.61 L673.74,91.68 L674.24,91.76 L674.74,91.84 L675.24,91.92 L675.75,92.00 L676.25,92.09 L676.75,92.17 L677.25,92.27 L677.75,92.36 L678.25,92.46 L678.75,92.56 L679.25,92.66 L679.76,92.77 L680.26,92.88 L680.76,93.00 L681.26,93.12 L681.76,93.24 L682.26,93.36 L682.76,93.49 L683.27,93.63 L683.77,93.77 L684.27,93.91 L684.77,94.06 L685.27,94.21 L685.77,94.37 L686.27,94.53 L686.77,94.70 L687.28,94.87 L687.78,95.04 L688.28,95.23 L688.78,95.41 L689.28,95.61 L689.78,95.81 L690.28,96.01 L690.78,96.22 L691.29,96.44 L691.79,96.66 L692.29,96.89 L692.79,97.13 L693.29,97.37 L693.79,97.62 L694.29,97.88 L694.79,98.14 L695.30,98.41 L695.80,98.69 L696.30,98.98 L696.80,99.27 L697.30,99.57 L697.80,99.88 L698.30,100.20 L698.80,100.52 L699.31,100.85 L699.81,101.19 L700.31,101.54 L700.81,101.89 L701.31,102.26 L701.81,102.63 L702.31,103.01 L702.82,103.39 L703.32,103.79 L703.82,104.19 L704.32,104.60 L704.82,105.02 L705.32,105.45 L705.82,105.89 L706.32,106.33 L706.83,106.78 L707.33,107.24 L707.83,107.70 L708.33,108.17 L708.83,108.65 L709.33,109.13 L709.83,109.62 L710.33,110.12 L710.84,110.62 L711.34,111.12 L711.84,111.63 L712.34,112.15 L712.84,112.66 L713.34,113.18 L713.84,113.71 L714.34,114.23 L714.85,114.76 L715.35,115.29 L715.85,115.82 L716.35,116.35 L716.85,116.87 L717.35,117.40 L717.85,117.92 L718.36,118.44 L718.86,118.96 L719.36,119.47 L719.86,119.97 L720.36,120.48 L720.86,120.97 L721.36,121.45 L721.86,121.93 L722.37,122.40 L722.87,122.86 L723.37,123.31 L723.87,123.75 L724.37,124.17 L724.87,124.59 L725.37,124.99 L725.87,125.38 L726.38,125.75 L726.88,126.11 L727.38,126.46 L727.88,126.79 L728.38,127.10 L728.88,127.40 L729.38,127.69 L729.88,127.96 L730.39,128.21 L730.89,128.45 L731.39,128.68 L731.89,128.89 L732.39,129.08 L732.89,129.26 L733.39,129.43 L733.89,129.59 L734.40,129.73 L734.90,129.86 L735.40,129.98 L735.90,130.08 L736.40,130.18 L736.90,130.27 L737.40,130.35 L737.91,130.42 L738.41,130.48 L738.91,130.54 L739.41,130.59 L739.91,130.63 L740.41,130.67 L740.91,130.71 L741.41,130.74 L741.92,130.77 L742.42,130.79 L742.92,130.81 L743.42,130.83 L743.92,130.85 L744.42,130.87 L744.92,130.89 L745.42,130.90 L745.93,130.92 L746.43,130.94 L746.93,130.95 L747.43,130.97 L747.93,130.98 L748.43,131.00 L748.93,131.01 L749.43,131.03 L749.94,131.04 L750.44,131.06 L750.94,131.08 L751.44,131.09 L751.94,131.11 L752.44,131.13 L752.94,131.15 L753.45,131.17 L753.95,131.19 L754.45,131.21 L754.95,131.23 L755.45,131.26 L755.95,131.28 L756.45,131.31 L756.95,131.33 L757.46,131.36 L757.96,131.38 L758.46,131.41 L758.96,131.44 L759.46,131.47 L759.96,131.50 L760.46,131.53 L760.96,131.57 L761.47,131.60 L761.97,131.63 L762.47,131.67 L762.97,131.71 L763.47,131.75 L763.97,131.79 L764.47,131.83 L764.97,131.87 L765.48,131.92 L765.98,131.96 L766.48,132.01 L766.98,132.06 L767.48,132.11 L767.98,132.16 L768.48,132.22 L768.98,132.27 L769.49,132.33 L769.99,132.39 L770.49,132.45 L770.99,132.51 L771.49,132.58 L771.99,132.65 L772.49,132.72 L773.00,132.79 L773.50,132.87 L774.00,132.94 L774.50,133.02 L775.00,133.11 L775.50,133.19 L776.00,133.28 L776.50,133.37 L777.01,133.47 L777.51,133.56 L778.01,133.67 L778.51,133.77 L779.01,133.88 L779.51,133.99 L780.01,134.10 L780.51,134.22 L781.02,134.35 L781.52,134.47 L782.02,134.60 L782.52,134.74 L783.02,134.88 L783.52,135.02 L784.02,135.17 L784.52,135.32 L785.03,135.48 L785.53,135.65 L786.03,135.82 L786.53,135.99 L787.03,136.17 L787.53,136.36 L788.03,136.55 L788.54,136.75 L789.04,136.95 L789.54,137.17 L790.04,137.38 L790.54,137.61 L791.04,137.84 L791.54,138.08 L792.04,138.33 L792.55,138.59 L793.05,138.85 L793.55,139.12 L794.05,139.40 L794.55,139.69 L795.05,139.99 L795.55,140.30 L796.05,140.61 L796.56,140.94 L797.06,141.28 L797.56,141.63 L798.06,141.98 L798.56,142.35 L799.06,142.73 L799.56,143.13 L800.06,143.53 L800.57,143.95 L801.07,144.37 L801.57,144.82 L802.07,145.27 L802.57,145.74 L803.07,146.22 L803.57,146.72 L804.07,147.23 L804.58,147.75 L805.08,148.29 L805.58,148.85 L806.08,149.42 L806.58,150.00 L807.08,150.61 L807.58,151.23 L808.09,151.87 L808.59,152.52 L809.09,153.19 L809.59,153.89 L810.09,154.59 L810.59,155.32 L811.09,156.07 L811.59,156.84 L812.10,157.62 L812.60,158.43 L813.10,159.25 L813.60,160.10 L814.10,160.97 L814.60,161.86 L815.10,162.77 L815.60,163.70 L816.11,164.65 L816.61,165.62 L817.11,166.62 L817.61,167.63 L818.11,168.67 L818.61,169.73 L819.11,170.81 L819.61,171.92 L820.12,173.04 L820.62,174.19 L821.12,175.36 L821.62,176.55 L822.12,177.76 L822.62,178.99 L823.12,180.24 L823.62,181.51 L824.13,182.80 L824.63,184.11 L825.13,185.44 L825.63,186.79 L826.13,188.15 L826.63,189.53 L827.13,190.92 L827.64,192.33 L828.14,193.75 L828.64,195.19 L829.14,196.63 L829.64,198.09 L830.14,199.55 L830.64,201.03 L831.14,202.51 L831.65,203.99 L832.15,205.48 L832.65,206.96 L833.15,208.45 L833.65,209.94 L834.15,211.42 L834.65,212.90 L835.15,214.37 L835.66,215.83 L836.16,217.28 L836.66,218.72 L837.16,220.14 L837.66,221.55 L838.16,222.94 L838.66,224.30 L839.16,225.65 L839.67,226.97 L840.17,228.26 L840.67,229.53 L841.17,230.77 L841.67,231.97 L842.17,233.14 L842.67,234.28 L843.18,235.38 L843.68,236.45 L844.18,237.47 L844.68,238.46 L845.18,239.41 L845.68,240.32 L846.18,241.18 L846.68,242.01 L847.19,242.79 L847.69,243.53 L848.19,244.23 L848.69,244.89 L849.19,245.50 L849.69,246.08 L850.19,246.62 L850.69,247.11 L851.20,247.57 L851.70,248.00 L852.20,248.39 L852.70,248.74 L853.20,249.07 L853.70,249.36 L854.20,249.63 L854.70,249.86 L855.21,250.08 L855.71,250.26 L856.21,250.43 L856.71,250.58 L857.21,250.71 L857.71,250.82 L858.21,250.91 L858.72,251.00 L859.22,251.07 L859.72,251.13 L860.22,251.18 L860.72,251.22 L861.22,251.26 L861.72,251.29 L862.22,251.31 L862.73,251.33 L863.23,251.35 L863.73,251.36 L864.23,251.37 L864.73,251.38 L865.23,251.38 L865.73,251.39 L866.23,251.39 L866.74,251.39 L867.24,251.39 L867.74,251.40 L868.24,251.40 L868.74,251.40 L869.24,251.40 L869.74,251.40 L870.24,251.40 L870.75,251.40 L871.25,251.40 L871.75,251.40 L872.25,251.40 L872.75,251.40 L873.25,251.40 L873.75,251.40 L874.25,251.40 L874.76,251.40 L875.26,251.40 L875.76,251.40 L876.26,251.40 L876.76,251.40 L877.26,251.40 L877.76,251.40 L878.27,251.40 L878.77,251.40 L879.27,251.40 L879.77,251.40 L880.27,251.40 L880.77,251.40 L881.27,251.40 L881.77,251.40 L882.28,251.40 L882.78,251.40 L883.28,251.40 L883.78,251.40 L884.28,251.40 L884.78,251.40 L885.28,251.40 L885.78,251.40 L886.29,251.40 L886.79,251.40 L887.29,251.40 L887.79,251.40 L888.29,251.40 L888.79,251.40 L889.29,251.40 L889.79,251.40 L890.30,251.40 L890.80,251.40 L891.30,251.40 L891.80,251.40 L892.30,251.40 L892.80,251.40 L893.30,251.40 L893.81,251.40 L894.31,251.40 L894.81,251.40 L895.31,251.40 L895.81,251.40 L896.31,251.40 L896.81,251.40 L897.31,251.40 L897.82,251.40 L898.32,251.40 L898.82,251.40 L899.32,251.40 L899.82,251.40 L900.32,251.40 L900.82,251.40 L901.32,251.40 L901.83,251.40 L902.33,251.40 L902.83,251.40 L903.33,251.40 L903.83,251.40 L904.33,251.40 L904.83,251.40 L905.33,251.40 L905.84,251.40 L906.34,251.40 L906.84,251.40 L907.34,251.40 L907.84,251.40 L908.34,251.40 L908.84,251.40 L909.34,251.40 L909.85,251.40 L910.35,251.40 L910.85,251.40 L911.35,251.40" fill="none" stroke="#00aa00" stroke-width="1.05" stroke-dasharray="1.6 2.3 7.8 2.3"/>
<path d="M560.45,34.40000000000001 V251.85" fill="none" stroke="#3a3a3a" stroke-width="0.56"/>
<path d="M560.0500000000001,251.4 H911.3500000000001" fill="none" stroke="#3a3a3a" stroke-width="0.8"/>
<path d="M560.45,251.40 h4.3 M560.45,240.57 h2.4 M560.45,229.74 h2.4 M560.45,218.91 h2.4 M560.45,208.08 h4.3 M560.45,197.25 h2.4 M560.45,186.42 h2.4 M560.45,175.59 h2.4 M560.45,164.76 h4.3 M560.45,153.93 h2.4 M560.45,143.10 h2.4 M560.45,132.27 h2.4 M560.45,121.44 h4.3 M560.45,110.61 h2.4 M560.45,99.78 h2.4 M560.45,88.95 h2.4 M560.45,78.12 h4.3 M560.45,67.29 h2.4 M560.45,56.46 h2.4 M560.45,45.63 h2.4 M560.45,34.80 h4.3" fill="none" stroke="#2a2a2a" stroke-width="0.72"/>
<path d="M560.45,251.4 v-4.3" fill="none" stroke="#777" stroke-width="0.72"/>
<path d="M911.35,251.4 v-4.3" fill="none" stroke="#777" stroke-width="0.72"/>
<path d="M581.58,251.4 v-1.5 M593.93,251.4 v-1.5 M602.70,251.4 v-1.5 M609.50,251.4 v-1.5 M615.06,251.4 v-1.5 M619.76,251.4 v-1.5 M623.83,251.4 v-1.5 M627.42,251.4 v-1.5 M630.63,251.4 v-4.3 M651.76,251.4 v-1.5 M664.11,251.4 v-1.5 M672.88,251.4 v-1.5 M679.68,251.4 v-1.5 M685.24,251.4 v-1.5 M689.94,251.4 v-1.5 M694.01,251.4 v-1.5 M697.60,251.4 v-1.5 M700.81,251.4 v-4.3 M721.94,251.4 v-1.5 M734.29,251.4 v-1.5 M743.06,251.4 v-1.5 M749.86,251.4 v-1.5 M755.42,251.4 v-1.5 M760.12,251.4 v-1.5 M764.19,251.4 v-1.5 M767.78,251.4 v-1.5 M770.99,251.4 v-4.3 M792.12,251.4 v-1.5 M804.47,251.4 v-1.5 M813.24,251.4 v-1.5 M820.04,251.4 v-1.5 M825.60,251.4 v-1.5 M830.30,251.4 v-1.5 M834.37,251.4 v-1.5 M837.96,251.4 v-1.5 M841.17,251.4 v-4.3 M862.30,251.4 v-1.5 M874.65,251.4 v-1.5 M883.42,251.4 v-1.5 M890.22,251.4 v-1.5 M895.78,251.4 v-1.5 M900.48,251.4 v-1.5 M904.55,251.4 v-1.5 M908.14,251.4 v-1.5" fill="none" stroke="#2a2a2a" stroke-width="0.72"/>
<text x="556.5500000000001" y="255.55" text-anchor="end" font-size="11.3">0.0</text>
<text x="556.5500000000001" y="212.23" text-anchor="end" font-size="11.3">0.2</text>
<text x="556.5500000000001" y="168.91" text-anchor="end" font-size="11.3">0.4</text>
<text x="556.5500000000001" y="125.59" text-anchor="end" font-size="11.3">0.6</text>
<text x="556.5500000000001" y="82.27" text-anchor="end" font-size="11.3">0.8</text>
<text x="556.5500000000001" y="38.95" text-anchor="end" font-size="11.3">1.0</text>
<text x="552.70" y="268.1" font-size="11.6">10</text><text x="563.90" y="262.9" font-size="8.3">5</text>
<text x="622.88" y="268.1" font-size="11.6">10</text><text x="634.08" y="262.9" font-size="8.3">6</text>
<text x="693.06" y="268.1" font-size="11.6">10</text><text x="704.26" y="262.9" font-size="8.3">7</text>
<text x="763.24" y="268.1" font-size="11.6">10</text><text x="774.44" y="262.9" font-size="8.3">8</text>
<text x="833.42" y="268.1" font-size="11.6">10</text><text x="844.62" y="262.9" font-size="8.3">9</text>
<text x="901.55" y="268.1" font-size="11.6">10</text><text x="912.75" y="262.9" font-size="8.3">10</text>
<text x="736.3000000000001" y="26.35" text-anchor="middle" font-size="15.3">II</text>
<text x="735.8000000000001" y="287.5" text-anchor="middle" font-size="22.5">x</text>
<text x="481.2" y="149.3" font-size="21.8" font-style="italic">E</text>
<text x="495.80 501.10 508.60 512.00 520.70 524.90 532.20" y="137.9" font-size="15.3">(2,3;1)</text>
<g transform="translate(496.15,154.5) scale(0.9,1)" fill="#111" stroke="#111" stroke-linecap="round" stroke-linejoin="round"><path d="M0.1,-0.2 C1.1,-0.3 1.7,-1.3 2.3,-3.1 L4.5,-10.3" fill="none" stroke-width="0.85"/><path d="M3.8,-10.6 L6.1,-10.5 L10.6,-0.6 L9.5,0.2 Z" stroke-width="0.3"/><path d="M10.1,-0.1 L12.6,-9.5 C12.8,-10.2 13.2,-10.6 13.8,-10.6" fill="none" stroke-width="0.8"/></g>
<text transform="translate(512.40,154.5) scale(1.21,1)" font-size="15.6" font-style="italic">μ</text>
</g>
</svg>
</body></html>
